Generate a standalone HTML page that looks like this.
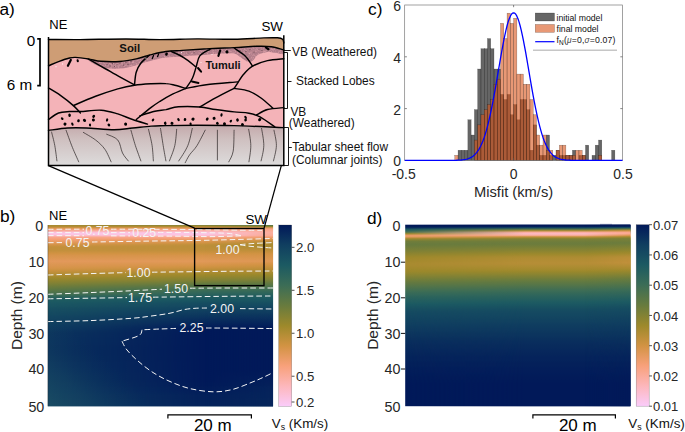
<!DOCTYPE html><html><head><meta charset="utf-8"><title>figure</title><style>html,body{margin:0;padding:0;background:#fff;}body{width:685px;height:432px;overflow:hidden;font-family:"Liberation Sans",sans-serif;}svg{display:block;}</style></head><body><svg width="685" height="432" viewBox="0 0 685 432" font-family="'Liberation Sans', sans-serif"><defs><linearGradient id="gbl" x1="0" y1="0" x2="0" y2="1"><stop offset="0.0000" stop-color="#a68b2f"/><stop offset="0.0083" stop-color="#b58d36"/><stop offset="0.0167" stop-color="#d7954a"/><stop offset="0.0250" stop-color="#f49f75"/><stop offset="0.0333" stop-color="#fbb0a7"/><stop offset="0.0417" stop-color="#fbc3df"/><stop offset="0.0500" stop-color="#fbc7ec"/><stop offset="0.0583" stop-color="#fcbbc9"/><stop offset="0.0667" stop-color="#f9a78d"/><stop offset="0.0750" stop-color="#f8a27f"/><stop offset="0.0833" stop-color="#f29f72"/><stop offset="0.0917" stop-color="#e99c65"/><stop offset="0.1000" stop-color="#e09858"/><stop offset="0.1083" stop-color="#d69449"/><stop offset="0.1167" stop-color="#c9913f"/><stop offset="0.1250" stop-color="#c3903c"/><stop offset="0.1333" stop-color="#c3903c"/><stop offset="0.1417" stop-color="#c4903d"/><stop offset="0.1500" stop-color="#cc9240"/><stop offset="0.1583" stop-color="#d39344"/><stop offset="0.1667" stop-color="#d8954b"/><stop offset="0.1750" stop-color="#da964f"/><stop offset="0.1833" stop-color="#dd9753"/><stop offset="0.1917" stop-color="#e09858"/><stop offset="0.2000" stop-color="#e3995c"/><stop offset="0.2083" stop-color="#e09858"/><stop offset="0.2167" stop-color="#dd9754"/><stop offset="0.2250" stop-color="#db9650"/><stop offset="0.2333" stop-color="#d8954c"/><stop offset="0.2417" stop-color="#d49447"/><stop offset="0.2500" stop-color="#cc9240"/><stop offset="0.2583" stop-color="#c3903c"/><stop offset="0.2667" stop-color="#b98e38"/><stop offset="0.2750" stop-color="#b08d34"/><stop offset="0.2833" stop-color="#a88b30"/><stop offset="0.2917" stop-color="#9f892c"/><stop offset="0.3000" stop-color="#97872d"/><stop offset="0.3083" stop-color="#8f8530"/><stop offset="0.3167" stop-color="#878333"/><stop offset="0.3250" stop-color="#7e8136"/><stop offset="0.3333" stop-color="#757e39"/><stop offset="0.3417" stop-color="#6c7c3d"/><stop offset="0.3500" stop-color="#647a40"/><stop offset="0.3583" stop-color="#5c7744"/><stop offset="0.3667" stop-color="#557549"/><stop offset="0.3750" stop-color="#4d724d"/><stop offset="0.3833" stop-color="#447052"/><stop offset="0.3917" stop-color="#366958"/><stop offset="0.4000" stop-color="#2a625d"/><stop offset="0.4083" stop-color="#215d60"/><stop offset="0.4167" stop-color="#1e5b61"/><stop offset="0.4250" stop-color="#1c5962"/><stop offset="0.4333" stop-color="#1b5762"/><stop offset="0.4417" stop-color="#1a5562"/><stop offset="0.4500" stop-color="#195361"/><stop offset="0.4583" stop-color="#185061"/><stop offset="0.4667" stop-color="#174e61"/><stop offset="0.4750" stop-color="#164d61"/><stop offset="0.4833" stop-color="#154b61"/><stop offset="0.4917" stop-color="#154a61"/><stop offset="0.5000" stop-color="#144861"/><stop offset="0.5083" stop-color="#134661"/><stop offset="0.5167" stop-color="#134560"/><stop offset="0.5250" stop-color="#124360"/><stop offset="0.5333" stop-color="#114260"/><stop offset="0.5417" stop-color="#114060"/><stop offset="0.5500" stop-color="#103f60"/><stop offset="0.5583" stop-color="#0f3d60"/><stop offset="0.5667" stop-color="#0f3c5f"/><stop offset="0.5750" stop-color="#0e3a5f"/><stop offset="0.5833" stop-color="#0d385f"/><stop offset="0.5917" stop-color="#0d365e"/><stop offset="0.6000" stop-color="#0c355e"/><stop offset="0.6083" stop-color="#0c345e"/><stop offset="0.6167" stop-color="#0c345e"/><stop offset="0.6250" stop-color="#0b335e"/><stop offset="0.6333" stop-color="#0b335e"/><stop offset="0.6417" stop-color="#0b335e"/><stop offset="0.6500" stop-color="#0b325e"/><stop offset="0.6583" stop-color="#0b325e"/><stop offset="0.6667" stop-color="#0b315d"/><stop offset="0.6750" stop-color="#0a315d"/><stop offset="0.6833" stop-color="#0a315d"/><stop offset="0.6917" stop-color="#0a305d"/><stop offset="0.7000" stop-color="#0a305d"/><stop offset="0.7083" stop-color="#0a305d"/><stop offset="0.7167" stop-color="#0a305d"/><stop offset="0.7250" stop-color="#0a315d"/><stop offset="0.7333" stop-color="#0a315d"/><stop offset="0.7417" stop-color="#0a315d"/><stop offset="0.7500" stop-color="#0b315d"/><stop offset="0.7583" stop-color="#0b325e"/><stop offset="0.7667" stop-color="#0b325e"/><stop offset="0.7750" stop-color="#0b325e"/><stop offset="0.7833" stop-color="#0b325e"/><stop offset="0.7917" stop-color="#0b335e"/><stop offset="0.8000" stop-color="#0b335e"/><stop offset="0.8083" stop-color="#0b335e"/><stop offset="0.8167" stop-color="#0c345e"/><stop offset="0.8250" stop-color="#0c345e"/><stop offset="0.8333" stop-color="#0c355e"/><stop offset="0.8417" stop-color="#0c355e"/><stop offset="0.8500" stop-color="#0c355e"/><stop offset="0.8583" stop-color="#0c365e"/><stop offset="0.8667" stop-color="#0d365e"/><stop offset="0.8750" stop-color="#0d375e"/><stop offset="0.8833" stop-color="#0d375f"/><stop offset="0.8917" stop-color="#0d375f"/><stop offset="0.9000" stop-color="#0d385f"/><stop offset="0.9083" stop-color="#0d385f"/><stop offset="0.9167" stop-color="#0d385f"/><stop offset="0.9250" stop-color="#0d395f"/><stop offset="0.9333" stop-color="#0e395f"/><stop offset="0.9417" stop-color="#0e395f"/><stop offset="0.9500" stop-color="#0e395f"/><stop offset="0.9583" stop-color="#0e3a5f"/><stop offset="0.9667" stop-color="#0e3a5f"/><stop offset="0.9750" stop-color="#0e3a5f"/><stop offset="0.9833" stop-color="#0e3a5f"/><stop offset="0.9917" stop-color="#0e3b5f"/><stop offset="1.0000" stop-color="#0e3b5f"/></linearGradient><linearGradient id="gbm" x1="0" y1="0" x2="0" y2="1"><stop offset="0.0000" stop-color="#787f38"/><stop offset="0.0083" stop-color="#af8c33"/><stop offset="0.0167" stop-color="#e19959"/><stop offset="0.0250" stop-color="#f9a485"/><stop offset="0.0333" stop-color="#fdb6b8"/><stop offset="0.0417" stop-color="#fbc2de"/><stop offset="0.0500" stop-color="#fbc6e8"/><stop offset="0.0583" stop-color="#fcbed2"/><stop offset="0.0667" stop-color="#f9a78c"/><stop offset="0.0750" stop-color="#f39f74"/><stop offset="0.0833" stop-color="#e49a5d"/><stop offset="0.0917" stop-color="#d9964e"/><stop offset="0.1000" stop-color="#ce9241"/><stop offset="0.1083" stop-color="#c0903b"/><stop offset="0.1167" stop-color="#bb8f39"/><stop offset="0.1250" stop-color="#bd8f3a"/><stop offset="0.1333" stop-color="#bf8f3a"/><stop offset="0.1417" stop-color="#c2903c"/><stop offset="0.1500" stop-color="#c9913f"/><stop offset="0.1583" stop-color="#d19342"/><stop offset="0.1667" stop-color="#d69449"/><stop offset="0.1750" stop-color="#d9954d"/><stop offset="0.1833" stop-color="#dc9751"/><stop offset="0.1917" stop-color="#de9855"/><stop offset="0.2000" stop-color="#e19959"/><stop offset="0.2083" stop-color="#dd9753"/><stop offset="0.2167" stop-color="#d9964d"/><stop offset="0.2250" stop-color="#d59447"/><stop offset="0.2333" stop-color="#ce9241"/><stop offset="0.2417" stop-color="#c4903c"/><stop offset="0.2500" stop-color="#b98e38"/><stop offset="0.2583" stop-color="#af8c33"/><stop offset="0.2667" stop-color="#a68b2f"/><stop offset="0.2750" stop-color="#9e892b"/><stop offset="0.2833" stop-color="#96872e"/><stop offset="0.2917" stop-color="#8d8531"/><stop offset="0.3000" stop-color="#858334"/><stop offset="0.3083" stop-color="#7c8037"/><stop offset="0.3167" stop-color="#6f7d3b"/><stop offset="0.3250" stop-color="#637a41"/><stop offset="0.3333" stop-color="#597646"/><stop offset="0.3417" stop-color="#4f734c"/><stop offset="0.3500" stop-color="#457051"/><stop offset="0.3583" stop-color="#3c6d56"/><stop offset="0.3667" stop-color="#366958"/><stop offset="0.3750" stop-color="#30665b"/><stop offset="0.3833" stop-color="#2a625d"/><stop offset="0.3917" stop-color="#235e5f"/><stop offset="0.4000" stop-color="#1e5b61"/><stop offset="0.4083" stop-color="#1b5862"/><stop offset="0.4167" stop-color="#195462"/><stop offset="0.4250" stop-color="#175061"/><stop offset="0.4333" stop-color="#164c61"/><stop offset="0.4417" stop-color="#154a61"/><stop offset="0.4500" stop-color="#144761"/><stop offset="0.4583" stop-color="#124460"/><stop offset="0.4667" stop-color="#114260"/><stop offset="0.4750" stop-color="#103f60"/><stop offset="0.4833" stop-color="#0f3c60"/><stop offset="0.4917" stop-color="#0e395f"/><stop offset="0.5000" stop-color="#0c365e"/><stop offset="0.5083" stop-color="#0b335e"/><stop offset="0.5167" stop-color="#0a2f5d"/><stop offset="0.5250" stop-color="#092c5d"/><stop offset="0.5333" stop-color="#07295c"/><stop offset="0.5417" stop-color="#06265b"/><stop offset="0.5500" stop-color="#05225b"/><stop offset="0.5583" stop-color="#031f5a"/><stop offset="0.5667" stop-color="#021c5a"/><stop offset="0.5750" stop-color="#011a59"/><stop offset="0.5833" stop-color="#011959"/><stop offset="0.5917" stop-color="#011959"/><stop offset="0.6000" stop-color="#011959"/><stop offset="0.6083" stop-color="#011959"/><stop offset="0.6167" stop-color="#011959"/><stop offset="0.6250" stop-color="#011959"/><stop offset="0.6333" stop-color="#011959"/><stop offset="0.6417" stop-color="#011959"/><stop offset="0.6500" stop-color="#011959"/><stop offset="0.6583" stop-color="#011959"/><stop offset="0.6667" stop-color="#011959"/><stop offset="0.6750" stop-color="#011959"/><stop offset="0.6833" stop-color="#011959"/><stop offset="0.6917" stop-color="#011959"/><stop offset="0.7000" stop-color="#011959"/><stop offset="0.7083" stop-color="#011959"/><stop offset="0.7167" stop-color="#011959"/><stop offset="0.7250" stop-color="#011959"/><stop offset="0.7333" stop-color="#011959"/><stop offset="0.7417" stop-color="#011959"/><stop offset="0.7500" stop-color="#011959"/><stop offset="0.7583" stop-color="#011959"/><stop offset="0.7667" stop-color="#011959"/><stop offset="0.7750" stop-color="#011959"/><stop offset="0.7833" stop-color="#011959"/><stop offset="0.7917" stop-color="#011959"/><stop offset="0.8000" stop-color="#011959"/><stop offset="0.8083" stop-color="#011959"/><stop offset="0.8167" stop-color="#011959"/><stop offset="0.8250" stop-color="#011959"/><stop offset="0.8333" stop-color="#011959"/><stop offset="0.8417" stop-color="#011959"/><stop offset="0.8500" stop-color="#011959"/><stop offset="0.8583" stop-color="#011959"/><stop offset="0.8667" stop-color="#011959"/><stop offset="0.8750" stop-color="#011a59"/><stop offset="0.8833" stop-color="#011a59"/><stop offset="0.8917" stop-color="#021b59"/><stop offset="0.9000" stop-color="#021c59"/><stop offset="0.9083" stop-color="#021c5a"/><stop offset="0.9167" stop-color="#031d5a"/><stop offset="0.9250" stop-color="#031e5a"/><stop offset="0.9333" stop-color="#031f5a"/><stop offset="0.9417" stop-color="#04205a"/><stop offset="0.9500" stop-color="#04205a"/><stop offset="0.9583" stop-color="#04205a"/><stop offset="0.9667" stop-color="#04215a"/><stop offset="0.9750" stop-color="#04215b"/><stop offset="0.9833" stop-color="#04225b"/><stop offset="0.9917" stop-color="#05225b"/><stop offset="1.0000" stop-color="#05235b"/></linearGradient><linearGradient id="gbr" x1="0" y1="0" x2="0" y2="1"><stop offset="0.0000" stop-color="#477050"/><stop offset="0.0083" stop-color="#8d8531"/><stop offset="0.0167" stop-color="#e89b63"/><stop offset="0.0250" stop-color="#f9a689"/><stop offset="0.0333" stop-color="#faaa94"/><stop offset="0.0417" stop-color="#fbac9c"/><stop offset="0.0500" stop-color="#faaa96"/><stop offset="0.0583" stop-color="#faa890"/><stop offset="0.0667" stop-color="#f29f73"/><stop offset="0.0750" stop-color="#e19859"/><stop offset="0.0833" stop-color="#d19343"/><stop offset="0.0917" stop-color="#bc8f39"/><stop offset="0.1000" stop-color="#ae8c33"/><stop offset="0.1083" stop-color="#a98b30"/><stop offset="0.1167" stop-color="#ac8c32"/><stop offset="0.1250" stop-color="#b08d34"/><stop offset="0.1333" stop-color="#b88e37"/><stop offset="0.1417" stop-color="#c0903b"/><stop offset="0.1500" stop-color="#c9913f"/><stop offset="0.1583" stop-color="#d19343"/><stop offset="0.1667" stop-color="#d49447"/><stop offset="0.1750" stop-color="#d7954a"/><stop offset="0.1833" stop-color="#d9964e"/><stop offset="0.1917" stop-color="#dc9751"/><stop offset="0.2000" stop-color="#de9755"/><stop offset="0.2083" stop-color="#d8954c"/><stop offset="0.2167" stop-color="#d39344"/><stop offset="0.2250" stop-color="#cc9240"/><stop offset="0.2333" stop-color="#c4903d"/><stop offset="0.2417" stop-color="#bc8f39"/><stop offset="0.2500" stop-color="#b58d36"/><stop offset="0.2583" stop-color="#ac8c32"/><stop offset="0.2667" stop-color="#a38a2e"/><stop offset="0.2750" stop-color="#9a882c"/><stop offset="0.2833" stop-color="#91862f"/><stop offset="0.2917" stop-color="#888332"/><stop offset="0.3000" stop-color="#7f8136"/><stop offset="0.3083" stop-color="#747e3a"/><stop offset="0.3167" stop-color="#687b3e"/><stop offset="0.3250" stop-color="#5f7843"/><stop offset="0.3333" stop-color="#557548"/><stop offset="0.3417" stop-color="#4c724d"/><stop offset="0.3500" stop-color="#436f52"/><stop offset="0.3583" stop-color="#3b6c57"/><stop offset="0.3667" stop-color="#346859"/><stop offset="0.3750" stop-color="#2e655b"/><stop offset="0.3833" stop-color="#28615d"/><stop offset="0.3917" stop-color="#225d60"/><stop offset="0.4000" stop-color="#1e5b61"/><stop offset="0.4083" stop-color="#1b5862"/><stop offset="0.4167" stop-color="#1a5562"/><stop offset="0.4250" stop-color="#185261"/><stop offset="0.4333" stop-color="#174e61"/><stop offset="0.4417" stop-color="#154b61"/><stop offset="0.4500" stop-color="#144861"/><stop offset="0.4583" stop-color="#124460"/><stop offset="0.4667" stop-color="#114160"/><stop offset="0.4750" stop-color="#103f60"/><stop offset="0.4833" stop-color="#0f3c5f"/><stop offset="0.4917" stop-color="#0d385f"/><stop offset="0.5000" stop-color="#0c355e"/><stop offset="0.5083" stop-color="#0b325e"/><stop offset="0.5167" stop-color="#0a2f5d"/><stop offset="0.5250" stop-color="#082b5c"/><stop offset="0.5333" stop-color="#07285c"/><stop offset="0.5417" stop-color="#06255b"/><stop offset="0.5500" stop-color="#04225b"/><stop offset="0.5583" stop-color="#031e5a"/><stop offset="0.5667" stop-color="#021b59"/><stop offset="0.5750" stop-color="#011a59"/><stop offset="0.5833" stop-color="#011959"/><stop offset="0.5917" stop-color="#011959"/><stop offset="0.6000" stop-color="#011959"/><stop offset="0.6083" stop-color="#011959"/><stop offset="0.6167" stop-color="#011959"/><stop offset="0.6250" stop-color="#011959"/><stop offset="0.6333" stop-color="#011959"/><stop offset="0.6417" stop-color="#011959"/><stop offset="0.6500" stop-color="#011959"/><stop offset="0.6583" stop-color="#011959"/><stop offset="0.6667" stop-color="#011959"/><stop offset="0.6750" stop-color="#011959"/><stop offset="0.6833" stop-color="#011959"/><stop offset="0.6917" stop-color="#011959"/><stop offset="0.7000" stop-color="#011959"/><stop offset="0.7083" stop-color="#011959"/><stop offset="0.7167" stop-color="#011959"/><stop offset="0.7250" stop-color="#011959"/><stop offset="0.7333" stop-color="#011959"/><stop offset="0.7417" stop-color="#011959"/><stop offset="0.7500" stop-color="#011959"/><stop offset="0.7583" stop-color="#011959"/><stop offset="0.7667" stop-color="#011959"/><stop offset="0.7750" stop-color="#011959"/><stop offset="0.7833" stop-color="#011959"/><stop offset="0.7917" stop-color="#011959"/><stop offset="0.8000" stop-color="#011959"/><stop offset="0.8083" stop-color="#011a59"/><stop offset="0.8167" stop-color="#021b59"/><stop offset="0.8250" stop-color="#021b59"/><stop offset="0.8333" stop-color="#021c5a"/><stop offset="0.8417" stop-color="#031d5a"/><stop offset="0.8500" stop-color="#031e5a"/><stop offset="0.8583" stop-color="#031f5a"/><stop offset="0.8667" stop-color="#041f5a"/><stop offset="0.8750" stop-color="#04205a"/><stop offset="0.8833" stop-color="#04215a"/><stop offset="0.8917" stop-color="#05225b"/><stop offset="0.9000" stop-color="#05235b"/><stop offset="0.9083" stop-color="#05235b"/><stop offset="0.9167" stop-color="#05235b"/><stop offset="0.9250" stop-color="#05245b"/><stop offset="0.9333" stop-color="#05245b"/><stop offset="0.9417" stop-color="#05245b"/><stop offset="0.9500" stop-color="#05245b"/><stop offset="0.9583" stop-color="#06255b"/><stop offset="0.9667" stop-color="#06255b"/><stop offset="0.9750" stop-color="#06255b"/><stop offset="0.9833" stop-color="#06255b"/><stop offset="0.9917" stop-color="#06265b"/><stop offset="1.0000" stop-color="#06265b"/></linearGradient><linearGradient id="mb1g" gradientUnits="userSpaceOnUse" x1="47.9" y1="0" x2="205.0" y2="0"><stop offset="0" stop-color="#000"/><stop offset="1" stop-color="#fff"/></linearGradient><mask id="mb1" maskUnits="userSpaceOnUse" x="47.9" y="0" width="225.2" height="432"><rect x="47.9" y="0" width="225.2" height="432" fill="url(#mb1g)"/></mask><linearGradient id="mb2g" gradientUnits="userSpaceOnUse" x1="205.0" y1="0" x2="273.1" y2="0"><stop offset="0" stop-color="#000"/><stop offset="1" stop-color="#fff"/></linearGradient><mask id="mb2" maskUnits="userSpaceOnUse" x="47.9" y="0" width="225.2" height="432"><rect x="47.9" y="0" width="225.2" height="432" fill="url(#mb2g)"/></mask><linearGradient id="gdiag" gradientUnits="userSpaceOnUse" x1="40" y1="414" x2="98" y2="352"><stop offset="0" stop-color="#2a6369" stop-opacity="0.5"/><stop offset="0.5" stop-color="#1f5566" stop-opacity="0.3"/><stop offset="1" stop-color="#103f60" stop-opacity="0"/></linearGradient><linearGradient id="gcb" x1="0" y1="0" x2="0" y2="1"><stop offset="0.0000" stop-color="#011959"/><stop offset="0.1111" stop-color="#103F60"/><stop offset="0.2222" stop-color="#1C5A62"/><stop offset="0.3333" stop-color="#3C6D56"/><stop offset="0.4444" stop-color="#687B3E"/><stop offset="0.5556" stop-color="#9D892B"/><stop offset="0.6667" stop-color="#D29343"/><stop offset="0.7778" stop-color="#F8A17B"/><stop offset="0.8889" stop-color="#FDB7BC"/><stop offset="1.0000" stop-color="#FACCFA"/></linearGradient><linearGradient id="gdl" x1="0" y1="0" x2="0" y2="1"><stop offset="0.0000" stop-color="#011959"/><stop offset="0.0083" stop-color="#011959"/><stop offset="0.0167" stop-color="#082b5c"/><stop offset="0.0250" stop-color="#1b5762"/><stop offset="0.0333" stop-color="#2c645c"/><stop offset="0.0417" stop-color="#50734b"/><stop offset="0.0500" stop-color="#9c892b"/><stop offset="0.0583" stop-color="#e79b62"/><stop offset="0.0667" stop-color="#e89b63"/><stop offset="0.0750" stop-color="#ae8c33"/><stop offset="0.0833" stop-color="#888333"/><stop offset="0.0917" stop-color="#717d3b"/><stop offset="0.1000" stop-color="#6c7c3d"/><stop offset="0.1083" stop-color="#687b3e"/><stop offset="0.1167" stop-color="#6b7c3d"/><stop offset="0.1250" stop-color="#717d3b"/><stop offset="0.1333" stop-color="#767f39"/><stop offset="0.1417" stop-color="#7c8037"/><stop offset="0.1500" stop-color="#838234"/><stop offset="0.1583" stop-color="#8b8431"/><stop offset="0.1667" stop-color="#92862f"/><stop offset="0.1750" stop-color="#9a882c"/><stop offset="0.1833" stop-color="#9f892c"/><stop offset="0.1917" stop-color="#a28a2d"/><stop offset="0.2000" stop-color="#a48a2e"/><stop offset="0.2083" stop-color="#a78b2f"/><stop offset="0.2167" stop-color="#a98b31"/><stop offset="0.2250" stop-color="#a88b30"/><stop offset="0.2333" stop-color="#a58a2f"/><stop offset="0.2417" stop-color="#a28a2d"/><stop offset="0.2500" stop-color="#9e892c"/><stop offset="0.2583" stop-color="#9b882c"/><stop offset="0.2667" stop-color="#94872e"/><stop offset="0.2750" stop-color="#8c8531"/><stop offset="0.2833" stop-color="#858334"/><stop offset="0.2917" stop-color="#7d8136"/><stop offset="0.3000" stop-color="#757f39"/><stop offset="0.3083" stop-color="#6e7c3c"/><stop offset="0.3167" stop-color="#667a3f"/><stop offset="0.3250" stop-color="#607843"/><stop offset="0.3333" stop-color="#597646"/><stop offset="0.3417" stop-color="#53744a"/><stop offset="0.3500" stop-color="#4c724d"/><stop offset="0.3583" stop-color="#467051"/><stop offset="0.3667" stop-color="#3f6e54"/><stop offset="0.3750" stop-color="#396b57"/><stop offset="0.3833" stop-color="#356959"/><stop offset="0.3917" stop-color="#30665b"/><stop offset="0.4000" stop-color="#2b635c"/><stop offset="0.4083" stop-color="#28615e"/><stop offset="0.4167" stop-color="#245f5f"/><stop offset="0.4250" stop-color="#215d60"/><stop offset="0.4333" stop-color="#1d5b62"/><stop offset="0.4417" stop-color="#1b5862"/><stop offset="0.4500" stop-color="#1a5562"/><stop offset="0.4583" stop-color="#195261"/><stop offset="0.4667" stop-color="#174f61"/><stop offset="0.4750" stop-color="#164c61"/><stop offset="0.4833" stop-color="#154a61"/><stop offset="0.4917" stop-color="#144961"/><stop offset="0.5000" stop-color="#144761"/><stop offset="0.5083" stop-color="#134661"/><stop offset="0.5167" stop-color="#124560"/><stop offset="0.5250" stop-color="#124360"/><stop offset="0.5333" stop-color="#114260"/><stop offset="0.5417" stop-color="#114060"/><stop offset="0.5500" stop-color="#103f60"/><stop offset="0.5583" stop-color="#0f3d60"/><stop offset="0.5667" stop-color="#0f3c5f"/><stop offset="0.5750" stop-color="#0e3a5f"/><stop offset="0.5833" stop-color="#0e395f"/><stop offset="0.5917" stop-color="#0d375f"/><stop offset="0.6000" stop-color="#0c365e"/><stop offset="0.6083" stop-color="#0c345e"/><stop offset="0.6167" stop-color="#0b335e"/><stop offset="0.6250" stop-color="#0b315d"/><stop offset="0.6333" stop-color="#0a305d"/><stop offset="0.6417" stop-color="#092e5d"/><stop offset="0.6500" stop-color="#092d5d"/><stop offset="0.6583" stop-color="#092c5d"/><stop offset="0.6667" stop-color="#082b5c"/><stop offset="0.6750" stop-color="#082a5c"/><stop offset="0.6833" stop-color="#07295c"/><stop offset="0.6917" stop-color="#07285c"/><stop offset="0.7000" stop-color="#07275c"/><stop offset="0.7083" stop-color="#06265b"/><stop offset="0.7167" stop-color="#06255b"/><stop offset="0.7250" stop-color="#05245b"/><stop offset="0.7333" stop-color="#05235b"/><stop offset="0.7417" stop-color="#05235b"/><stop offset="0.7500" stop-color="#04225b"/><stop offset="0.7583" stop-color="#04215a"/><stop offset="0.7667" stop-color="#04205a"/><stop offset="0.7750" stop-color="#04205a"/><stop offset="0.7833" stop-color="#031f5a"/><stop offset="0.7917" stop-color="#031e5a"/><stop offset="0.8000" stop-color="#031e5a"/><stop offset="0.8083" stop-color="#031d5a"/><stop offset="0.8167" stop-color="#021d5a"/><stop offset="0.8250" stop-color="#021c5a"/><stop offset="0.8333" stop-color="#021c59"/><stop offset="0.8417" stop-color="#021b59"/><stop offset="0.8500" stop-color="#021b59"/><stop offset="0.8583" stop-color="#011a59"/><stop offset="0.8667" stop-color="#011a59"/><stop offset="0.8750" stop-color="#011959"/><stop offset="0.8833" stop-color="#011959"/><stop offset="0.8917" stop-color="#011959"/><stop offset="0.9000" stop-color="#011959"/><stop offset="0.9083" stop-color="#011959"/><stop offset="0.9167" stop-color="#011959"/><stop offset="0.9250" stop-color="#011959"/><stop offset="0.9333" stop-color="#011959"/><stop offset="0.9417" stop-color="#011959"/><stop offset="0.9500" stop-color="#011959"/><stop offset="0.9583" stop-color="#011959"/><stop offset="0.9667" stop-color="#011959"/><stop offset="0.9750" stop-color="#011959"/><stop offset="0.9833" stop-color="#011959"/><stop offset="0.9917" stop-color="#011959"/><stop offset="1.0000" stop-color="#011959"/></linearGradient><linearGradient id="gdm" x1="0" y1="0" x2="0" y2="1"><stop offset="0.0000" stop-color="#011959"/><stop offset="0.0083" stop-color="#011959"/><stop offset="0.0167" stop-color="#144761"/><stop offset="0.0250" stop-color="#51744b"/><stop offset="0.0333" stop-color="#b28d35"/><stop offset="0.0417" stop-color="#fbad9f"/><stop offset="0.0500" stop-color="#fcbbc7"/><stop offset="0.0583" stop-color="#fbaea0"/><stop offset="0.0667" stop-color="#c6913d"/><stop offset="0.0750" stop-color="#8e8530"/><stop offset="0.0833" stop-color="#777f39"/><stop offset="0.0917" stop-color="#717d3b"/><stop offset="0.1000" stop-color="#6c7c3d"/><stop offset="0.1083" stop-color="#6d7c3c"/><stop offset="0.1167" stop-color="#737e3a"/><stop offset="0.1250" stop-color="#7a8037"/><stop offset="0.1333" stop-color="#818235"/><stop offset="0.1417" stop-color="#888332"/><stop offset="0.1500" stop-color="#908630"/><stop offset="0.1583" stop-color="#99882d"/><stop offset="0.1667" stop-color="#a18a2d"/><stop offset="0.1750" stop-color="#a98b31"/><stop offset="0.1833" stop-color="#af8c33"/><stop offset="0.1917" stop-color="#b18d34"/><stop offset="0.2000" stop-color="#b38d35"/><stop offset="0.2083" stop-color="#b58e36"/><stop offset="0.2167" stop-color="#b58d36"/><stop offset="0.2250" stop-color="#b08d34"/><stop offset="0.2333" stop-color="#ac8c32"/><stop offset="0.2417" stop-color="#a78b2f"/><stop offset="0.2500" stop-color="#a28a2d"/><stop offset="0.2583" stop-color="#9a882c"/><stop offset="0.2667" stop-color="#91862f"/><stop offset="0.2750" stop-color="#898432"/><stop offset="0.2833" stop-color="#808135"/><stop offset="0.2917" stop-color="#787f38"/><stop offset="0.3000" stop-color="#6f7d3b"/><stop offset="0.3083" stop-color="#677b3f"/><stop offset="0.3167" stop-color="#607942"/><stop offset="0.3250" stop-color="#5a7746"/><stop offset="0.3333" stop-color="#547549"/><stop offset="0.3417" stop-color="#4d724d"/><stop offset="0.3500" stop-color="#477050"/><stop offset="0.3583" stop-color="#406e54"/><stop offset="0.3667" stop-color="#3b6c57"/><stop offset="0.3750" stop-color="#366958"/><stop offset="0.3833" stop-color="#31675a"/><stop offset="0.3917" stop-color="#2d645c"/><stop offset="0.4000" stop-color="#29625d"/><stop offset="0.4083" stop-color="#26605e"/><stop offset="0.4167" stop-color="#225e60"/><stop offset="0.4250" stop-color="#1e5b61"/><stop offset="0.4333" stop-color="#1c5962"/><stop offset="0.4417" stop-color="#1a5662"/><stop offset="0.4500" stop-color="#195361"/><stop offset="0.4583" stop-color="#185061"/><stop offset="0.4667" stop-color="#164d61"/><stop offset="0.4750" stop-color="#154b61"/><stop offset="0.4833" stop-color="#154961"/><stop offset="0.4917" stop-color="#144861"/><stop offset="0.5000" stop-color="#134761"/><stop offset="0.5083" stop-color="#134560"/><stop offset="0.5167" stop-color="#124460"/><stop offset="0.5250" stop-color="#114260"/><stop offset="0.5333" stop-color="#114160"/><stop offset="0.5417" stop-color="#103f60"/><stop offset="0.5500" stop-color="#0f3d60"/><stop offset="0.5583" stop-color="#0f3c5f"/><stop offset="0.5667" stop-color="#0e3b5f"/><stop offset="0.5750" stop-color="#0e395f"/><stop offset="0.5833" stop-color="#0d385f"/><stop offset="0.5917" stop-color="#0d375e"/><stop offset="0.6000" stop-color="#0c355e"/><stop offset="0.6083" stop-color="#0c345e"/><stop offset="0.6167" stop-color="#0b335e"/><stop offset="0.6250" stop-color="#0b315d"/><stop offset="0.6333" stop-color="#0a305d"/><stop offset="0.6417" stop-color="#092e5d"/><stop offset="0.6500" stop-color="#092d5d"/><stop offset="0.6583" stop-color="#092c5d"/><stop offset="0.6667" stop-color="#082b5c"/><stop offset="0.6750" stop-color="#082a5c"/><stop offset="0.6833" stop-color="#07295c"/><stop offset="0.6917" stop-color="#07285c"/><stop offset="0.7000" stop-color="#07275c"/><stop offset="0.7083" stop-color="#06265b"/><stop offset="0.7167" stop-color="#06255b"/><stop offset="0.7250" stop-color="#05245b"/><stop offset="0.7333" stop-color="#05235b"/><stop offset="0.7417" stop-color="#05235b"/><stop offset="0.7500" stop-color="#04225b"/><stop offset="0.7583" stop-color="#04215a"/><stop offset="0.7667" stop-color="#04205a"/><stop offset="0.7750" stop-color="#04205a"/><stop offset="0.7833" stop-color="#031f5a"/><stop offset="0.7917" stop-color="#031e5a"/><stop offset="0.8000" stop-color="#031e5a"/><stop offset="0.8083" stop-color="#031d5a"/><stop offset="0.8167" stop-color="#021d5a"/><stop offset="0.8250" stop-color="#021c5a"/><stop offset="0.8333" stop-color="#021c59"/><stop offset="0.8417" stop-color="#021b59"/><stop offset="0.8500" stop-color="#021b59"/><stop offset="0.8583" stop-color="#011a59"/><stop offset="0.8667" stop-color="#011a59"/><stop offset="0.8750" stop-color="#011959"/><stop offset="0.8833" stop-color="#011959"/><stop offset="0.8917" stop-color="#011959"/><stop offset="0.9000" stop-color="#011959"/><stop offset="0.9083" stop-color="#011959"/><stop offset="0.9167" stop-color="#011959"/><stop offset="0.9250" stop-color="#011959"/><stop offset="0.9333" stop-color="#011959"/><stop offset="0.9417" stop-color="#011959"/><stop offset="0.9500" stop-color="#011959"/><stop offset="0.9583" stop-color="#011959"/><stop offset="0.9667" stop-color="#011959"/><stop offset="0.9750" stop-color="#011959"/><stop offset="0.9833" stop-color="#011959"/><stop offset="0.9917" stop-color="#011959"/><stop offset="1.0000" stop-color="#011959"/></linearGradient><linearGradient id="gdr" x1="0" y1="0" x2="0" y2="1"><stop offset="0.0000" stop-color="#011959"/><stop offset="0.0083" stop-color="#011959"/><stop offset="0.0167" stop-color="#1a5562"/><stop offset="0.0250" stop-color="#737e3a"/><stop offset="0.0333" stop-color="#d29343"/><stop offset="0.0417" stop-color="#f9a78e"/><stop offset="0.0500" stop-color="#faa88f"/><stop offset="0.0583" stop-color="#de9755"/><stop offset="0.0667" stop-color="#a38a2e"/><stop offset="0.0750" stop-color="#7c8037"/><stop offset="0.0833" stop-color="#767f39"/><stop offset="0.0917" stop-color="#717d3b"/><stop offset="0.1000" stop-color="#6b7c3d"/><stop offset="0.1083" stop-color="#727e3a"/><stop offset="0.1167" stop-color="#7a8038"/><stop offset="0.1250" stop-color="#818235"/><stop offset="0.1333" stop-color="#888432"/><stop offset="0.1417" stop-color="#908630"/><stop offset="0.1500" stop-color="#99882c"/><stop offset="0.1583" stop-color="#a28a2d"/><stop offset="0.1667" stop-color="#ac8c32"/><stop offset="0.1750" stop-color="#b58d36"/><stop offset="0.1833" stop-color="#bb8f39"/><stop offset="0.1917" stop-color="#bd8f39"/><stop offset="0.2000" stop-color="#be8f3a"/><stop offset="0.2083" stop-color="#c0903b"/><stop offset="0.2167" stop-color="#bc8f39"/><stop offset="0.2250" stop-color="#b58e36"/><stop offset="0.2333" stop-color="#af8c33"/><stop offset="0.2417" stop-color="#a88b30"/><stop offset="0.2500" stop-color="#9f892c"/><stop offset="0.2583" stop-color="#96872e"/><stop offset="0.2667" stop-color="#8c8531"/><stop offset="0.2750" stop-color="#838234"/><stop offset="0.2833" stop-color="#798038"/><stop offset="0.2917" stop-color="#707d3b"/><stop offset="0.3000" stop-color="#677b3f"/><stop offset="0.3083" stop-color="#617942"/><stop offset="0.3167" stop-color="#5b7745"/><stop offset="0.3250" stop-color="#547549"/><stop offset="0.3333" stop-color="#4e734c"/><stop offset="0.3417" stop-color="#48714f"/><stop offset="0.3500" stop-color="#426f53"/><stop offset="0.3583" stop-color="#3c6d56"/><stop offset="0.3667" stop-color="#376a58"/><stop offset="0.3750" stop-color="#336759"/><stop offset="0.3833" stop-color="#2f655b"/><stop offset="0.3917" stop-color="#2b635c"/><stop offset="0.4000" stop-color="#27615e"/><stop offset="0.4083" stop-color="#235e5f"/><stop offset="0.4167" stop-color="#205c61"/><stop offset="0.4250" stop-color="#1c5a62"/><stop offset="0.4333" stop-color="#1b5762"/><stop offset="0.4417" stop-color="#195362"/><stop offset="0.4500" stop-color="#185061"/><stop offset="0.4583" stop-color="#164d61"/><stop offset="0.4667" stop-color="#154b61"/><stop offset="0.4750" stop-color="#154a61"/><stop offset="0.4833" stop-color="#144861"/><stop offset="0.4917" stop-color="#144761"/><stop offset="0.5000" stop-color="#134560"/><stop offset="0.5083" stop-color="#124460"/><stop offset="0.5167" stop-color="#124260"/><stop offset="0.5250" stop-color="#114160"/><stop offset="0.5333" stop-color="#104060"/><stop offset="0.5417" stop-color="#103e60"/><stop offset="0.5500" stop-color="#0f3d60"/><stop offset="0.5583" stop-color="#0f3b5f"/><stop offset="0.5667" stop-color="#0e3a5f"/><stop offset="0.5750" stop-color="#0d395f"/><stop offset="0.5833" stop-color="#0d375f"/><stop offset="0.5917" stop-color="#0c365e"/><stop offset="0.6000" stop-color="#0c355e"/><stop offset="0.6083" stop-color="#0b345e"/><stop offset="0.6167" stop-color="#0b325e"/><stop offset="0.6250" stop-color="#0a315d"/><stop offset="0.6333" stop-color="#0a305d"/><stop offset="0.6417" stop-color="#092e5d"/><stop offset="0.6500" stop-color="#092d5d"/><stop offset="0.6583" stop-color="#092c5d"/><stop offset="0.6667" stop-color="#082b5c"/><stop offset="0.6750" stop-color="#082a5c"/><stop offset="0.6833" stop-color="#07295c"/><stop offset="0.6917" stop-color="#07285c"/><stop offset="0.7000" stop-color="#07275c"/><stop offset="0.7083" stop-color="#06265b"/><stop offset="0.7167" stop-color="#06255b"/><stop offset="0.7250" stop-color="#05245b"/><stop offset="0.7333" stop-color="#05235b"/><stop offset="0.7417" stop-color="#05235b"/><stop offset="0.7500" stop-color="#04225b"/><stop offset="0.7583" stop-color="#04215a"/><stop offset="0.7667" stop-color="#04205a"/><stop offset="0.7750" stop-color="#04205a"/><stop offset="0.7833" stop-color="#031f5a"/><stop offset="0.7917" stop-color="#031e5a"/><stop offset="0.8000" stop-color="#031e5a"/><stop offset="0.8083" stop-color="#031d5a"/><stop offset="0.8167" stop-color="#021d5a"/><stop offset="0.8250" stop-color="#021c5a"/><stop offset="0.8333" stop-color="#021c59"/><stop offset="0.8417" stop-color="#021b59"/><stop offset="0.8500" stop-color="#021b59"/><stop offset="0.8583" stop-color="#011a59"/><stop offset="0.8667" stop-color="#011a59"/><stop offset="0.8750" stop-color="#011959"/><stop offset="0.8833" stop-color="#011959"/><stop offset="0.8917" stop-color="#011959"/><stop offset="0.9000" stop-color="#011959"/><stop offset="0.9083" stop-color="#011959"/><stop offset="0.9167" stop-color="#011959"/><stop offset="0.9250" stop-color="#011959"/><stop offset="0.9333" stop-color="#011959"/><stop offset="0.9417" stop-color="#011959"/><stop offset="0.9500" stop-color="#011959"/><stop offset="0.9583" stop-color="#011959"/><stop offset="0.9667" stop-color="#011959"/><stop offset="0.9750" stop-color="#011959"/><stop offset="0.9833" stop-color="#011959"/><stop offset="0.9917" stop-color="#011959"/><stop offset="1.0000" stop-color="#011959"/></linearGradient><linearGradient id="md1g" gradientUnits="userSpaceOnUse" x1="405.2" y1="0" x2="525.0" y2="0"><stop offset="0" stop-color="#000"/><stop offset="1" stop-color="#fff"/></linearGradient><mask id="md1" maskUnits="userSpaceOnUse" x="405.2" y="0" width="225.4" height="432"><rect x="405.2" y="0" width="225.4" height="432" fill="url(#md1g)"/></mask><linearGradient id="md2g" gradientUnits="userSpaceOnUse" x1="585.0" y1="0" x2="630.6" y2="0"><stop offset="0" stop-color="#000"/><stop offset="1" stop-color="#fff"/></linearGradient><mask id="md2" maskUnits="userSpaceOnUse" x="405.2" y="0" width="225.4" height="432"><rect x="405.2" y="0" width="225.4" height="432" fill="url(#md2g)"/></mask><linearGradient id="ggrey" x1="0" y1="0" x2="0" y2="1"><stop offset="0" stop-color="#c4a9ab"/><stop offset="0.35" stop-color="#cfc0c0"/><stop offset="1" stop-color="#dddcdc"/></linearGradient><filter id="fb" x="-5%" y="-60%" width="110%" height="220%"><feGaussianBlur in="SourceGraphic" stdDeviation="0.75" result="b"/><feTurbulence type="fractalNoise" baseFrequency="0.55" numOctaves="2" seed="7" result="n"/><feColorMatrix in="n" type="matrix" values="0 0 0 0 0  0 0 0 0 0  0 0 0 0 0  1.5 0 0 0 0.15" result="a"/><feComposite in="b" in2="a" operator="in"/></filter><clipPath id="cpink"><path d="M48.5 65.8 C50.2 65.1 55.1 62.9 58.5 61.6 C61.9 60.4 65.8 59.0 68.6 58.3 C71.4 57.6 72.1 57.3 75.4 57.4 C78.7 57.5 83.9 58.2 88.2 58.9 C92.5 59.5 95.8 60.9 101.1 61.3 C106.3 61.7 113.8 61.9 119.7 61.5 C125.6 61.1 131.1 60.0 136.3 58.9 C141.6 57.8 146.2 55.8 151.2 54.6 C156.1 53.4 160.8 52.2 166.0 51.5 C171.2 50.8 175.5 50.8 182.2 50.4 C188.9 50.0 197.7 49.4 206.3 48.9 C215.0 48.4 225.8 48.0 234.1 47.6 C242.4 47.2 250.1 46.4 256.3 46.3 C262.5 46.1 266.6 46.1 271.2 46.7 C275.8 47.3 281.7 49.5 283.8 50.0 L283.8 127.6 C275.5 127.3 248.6 126.0 234.1 125.6 C219.6 125.2 208.3 125.2 197.0 125.2 C185.7 125.2 173.6 125.4 166.0 125.6 C158.4 125.8 156.8 125.7 151.2 126.1 C145.6 126.5 138.8 127.4 132.6 128.0 C126.4 128.6 121.8 129.8 114.1 129.8 C106.4 129.8 94.0 128.3 86.3 128.0 C78.6 127.7 74.1 127.6 67.8 128.0 C61.5 128.4 51.7 130.0 48.5 130.4 Z"/></clipPath></defs><rect x="47.90" y="225.00" width="225.20" height="181.30" fill="url(#gbl)"/>
<rect x="47.90" y="225.00" width="225.20" height="181.30" fill="url(#gbm)" mask="url(#mb1)"/>
<rect x="47.90" y="225.00" width="225.20" height="181.30" fill="url(#gbr)" mask="url(#mb2)"/>
<rect x="47.90" y="320.00" width="102.10" height="86.30" fill="url(#gdiag)"/>
<rect x="278.70" y="225.00" width="13.00" height="181.30" fill="url(#gcb)" stroke="#333" stroke-width="0.5" stroke-opacity="0.45"/>
<rect x="405.20" y="224.70" width="225.40" height="181.50" fill="url(#gdl)"/>
<rect x="405.20" y="224.70" width="225.40" height="181.50" fill="url(#gdm)" mask="url(#md1)"/>
<rect x="405.20" y="224.70" width="225.40" height="181.50" fill="url(#gdr)" mask="url(#md2)"/>
<rect x="636.20" y="224.70" width="13.00" height="181.50" fill="url(#gcb)" stroke="#333" stroke-width="0.5" stroke-opacity="0.45"/>
<text x="43.20" y="230.60" font-size="14.30" text-anchor="end" fill="#262626" >0</text>
<text x="44.30" y="267.40" font-size="14.30" text-anchor="end" fill="#262626" >10</text>
<text x="44.30" y="303.00" font-size="14.30" text-anchor="end" fill="#262626" >20</text>
<text x="44.30" y="338.60" font-size="14.30" text-anchor="end" fill="#262626" >30</text>
<text x="44.30" y="374.20" font-size="14.30" text-anchor="end" fill="#262626" >40</text>
<text x="44.30" y="412.30" font-size="14.30" text-anchor="end" fill="#262626" >50</text>
<text transform="translate(21.9,315.6) rotate(-90)" font-size="15.5" text-anchor="middle" fill="#262626">Depth (m)</text>
<text x="0.00" y="222.20" font-size="17.30" text-anchor="start" fill="#000" >b)</text>
<text x="49.00" y="219.60" font-size="13.00" text-anchor="start" fill="#000" >NE</text>
<text x="245.40" y="223.80" font-size="13.40" text-anchor="start" fill="#000" >SW</text>
<line x1="291.70" y1="247.34" x2="294.50" y2="247.34" stroke="#262626" stroke-width="0.80" />
<text x="296.00" y="252.34" font-size="13.20" text-anchor="start" fill="#262626" >2.0</text>
<line x1="291.70" y1="290.30" x2="294.50" y2="290.30" stroke="#262626" stroke-width="0.80" />
<text x="296.00" y="295.30" font-size="13.20" text-anchor="start" fill="#262626" >1.5</text>
<line x1="291.70" y1="333.26" x2="294.50" y2="333.26" stroke="#262626" stroke-width="0.80" />
<text x="296.00" y="338.26" font-size="13.20" text-anchor="start" fill="#262626" >1.0</text>
<line x1="291.70" y1="376.23" x2="294.50" y2="376.23" stroke="#262626" stroke-width="0.80" />
<text x="296.00" y="381.23" font-size="13.20" text-anchor="start" fill="#262626" >0.5</text>
<line x1="291.70" y1="402.00" x2="294.50" y2="402.00" stroke="#262626" stroke-width="0.80" />
<text x="296.00" y="407.00" font-size="13.20" text-anchor="start" fill="#262626" >0.2</text>
<text x="271.70" y="427.70" font-size="13.40" text-anchor="start" fill="#111" >V<tspan font-size="8.8" dy="2">s</tspan><tspan dy="-2"> (Km/s)</tspan></text>
<path d="M167.9 418.6 V414.9 H251.4 V418.6" stroke="#000" stroke-width="1.20" fill="none" />
<text x="212.80" y="430.90" font-size="17.00" text-anchor="middle" fill="#000" >20 m</text>
<path d="M48.0 229.3 C51.7 229.3 64.0 229.2 70.0 229.2 C76.0 229.2 81.7 229.2 84.0 229.2" stroke="#f6f6f6" stroke-width="1.00" fill="none" stroke-dasharray="5.6 3.0" stroke-linecap="butt"/>
<path d="M111.0 229.2 C119.2 229.2 145.2 229.2 160.0 229.3 C174.8 229.4 186.7 229.4 200.0 229.6 C213.3 229.8 229.7 230.1 240.0 230.2 C250.3 230.3 258.3 230.3 262.0 230.3" stroke="#f6f6f6" stroke-width="1.00" fill="none" stroke-dasharray="5.6 3.0" stroke-linecap="butt"/>
<text x="97.40" y="234.80" font-size="12.30" text-anchor="middle" fill="#f4f4f4" >0.75</text>
<path d="M48.0 232.6 L84.0 232.6" stroke="#f6f6f6" stroke-width="1.00" fill="none" stroke-dasharray="5.6 3.0" stroke-linecap="butt"/>
<path d="M111.0 232.6 L130.0 232.6" stroke="#f6f6f6" stroke-width="1.00" fill="none" stroke-dasharray="5.6 3.0" stroke-linecap="butt"/>
<path d="M158.0 232.4 C165.0 232.4 188.3 232.4 200.0 232.6 C211.7 232.8 221.2 232.9 228.0 233.4 C234.8 233.9 238.8 235.2 241.0 235.6" stroke="#f6f6f6" stroke-width="1.00" fill="none" stroke-dasharray="5.6 3.0" stroke-linecap="butt"/>
<path d="M48.0 235.6 L84.0 235.7" stroke="#f6f6f6" stroke-width="1.00" fill="none" stroke-dasharray="5.6 3.0" stroke-linecap="butt"/>
<path d="M111.0 235.8 L130.0 235.9" stroke="#f6f6f6" stroke-width="1.00" fill="none" stroke-dasharray="5.6 3.0" stroke-linecap="butt"/>
<path d="M158.0 236.1 C161.7 236.1 170.5 236.1 180.0 236.2 C189.5 236.3 204.8 236.7 215.0 236.6 C225.2 236.5 236.7 235.9 241.0 235.8" stroke="#f6f6f6" stroke-width="1.00" fill="none" stroke-dasharray="5.6 3.0" stroke-linecap="butt"/>
<text x="144.20" y="236.60" font-size="12.30" text-anchor="middle" fill="#f4f4f4" >0.25</text>
<path d="M48.0 242.7 L62.0 242.6" stroke="#f6f6f6" stroke-width="1.00" fill="none" stroke-dasharray="5.6 3.0" stroke-linecap="butt"/>
<path d="M92.0 242.0 C100.0 241.9 122.0 241.5 140.0 241.2 C158.0 240.9 183.3 240.7 200.0 240.4 C216.7 240.1 227.8 239.7 240.0 239.4 C252.2 239.1 267.5 238.6 273.0 238.4" stroke="#f6f6f6" stroke-width="1.00" fill="none" stroke-dasharray="5.6 3.0" stroke-linecap="butt"/>
<text x="77.50" y="247.20" font-size="12.30" text-anchor="middle" fill="#f4f4f4" >0.75</text>
<path d="M240.0 244.6 C242.5 244.4 249.5 243.7 255.0 243.4 C260.5 243.1 270.0 242.7 273.0 242.6" stroke="#f6f6f6" stroke-width="1.00" fill="none" stroke-dasharray="5.6 3.0" stroke-linecap="butt"/>
<path d="M240.0 244.8 C241.7 245.1 246.3 245.9 250.0 246.3 C253.7 246.7 258.2 247.0 262.0 247.3 C265.8 247.6 271.2 247.9 273.0 248.0" stroke="#f6f6f6" stroke-width="1.00" fill="none" stroke-dasharray="5.6 3.0" stroke-linecap="butt"/>
<text x="227.50" y="253.60" font-size="12.30" text-anchor="middle" fill="#f4f4f4" >1.00</text>
<path d="M48.0 275.0 C55.0 274.8 77.0 274.0 90.0 273.6 C103.0 273.2 120.0 272.8 126.0 272.6" stroke="#f6f6f6" stroke-width="1.00" fill="none" stroke-dasharray="5.6 3.0" stroke-linecap="butt"/>
<path d="M152.0 272.2 C160.0 272.1 185.3 271.8 200.0 271.6 C214.7 271.4 227.8 271.3 240.0 271.2 C252.2 271.1 267.5 271.0 273.0 271.0" stroke="#f6f6f6" stroke-width="1.00" fill="none" stroke-dasharray="5.6 3.0" stroke-linecap="butt"/>
<text x="138.50" y="276.80" font-size="12.30" text-anchor="middle" fill="#f4f4f4" >1.00</text>
<path d="M48.0 294.3 C55.0 294.0 76.3 293.2 90.0 292.6 C103.7 292.0 118.0 291.4 130.0 290.8 C142.0 290.2 156.7 289.5 162.0 289.2" stroke="#f6f6f6" stroke-width="1.00" fill="none" stroke-dasharray="5.6 3.0" stroke-linecap="butt"/>
<path d="M190.0 288.2 C196.7 288.2 216.2 288.0 230.0 288.0 C243.8 288.0 265.8 288.0 273.0 288.0" stroke="#f6f6f6" stroke-width="1.00" fill="none" stroke-dasharray="5.6 3.0" stroke-linecap="butt"/>
<text x="176.00" y="292.60" font-size="12.30" text-anchor="middle" fill="#f4f4f4" >1.50</text>
<path d="M48.0 298.8 C55.0 298.7 76.8 298.4 90.0 298.2 C103.2 298.0 120.8 297.7 127.0 297.6" stroke="#f6f6f6" stroke-width="1.00" fill="none" stroke-dasharray="5.6 3.0" stroke-linecap="butt"/>
<path d="M153.0 297.2 C160.8 297.1 185.5 296.8 200.0 296.6 C214.5 296.4 227.8 296.3 240.0 296.2 C252.2 296.1 267.5 296.0 273.0 296.0" stroke="#f6f6f6" stroke-width="1.00" fill="none" stroke-dasharray="5.6 3.0" stroke-linecap="butt"/>
<text x="140.00" y="301.50" font-size="12.30" text-anchor="middle" fill="#f4f4f4" >1.75</text>
<path d="M48.0 321.6 C55.0 321.4 76.3 321.1 90.0 320.6 C103.7 320.1 120.0 319.1 130.0 318.4 C140.0 317.7 143.3 317.1 150.0 316.2 C156.7 315.3 164.3 314.3 170.0 313.2 C175.7 312.1 179.8 310.4 184.0 309.6 C188.2 308.8 191.2 308.6 195.0 308.3 C198.8 308.0 205.0 308.1 207.0 308.0" stroke="#f6f6f6" stroke-width="1.00" fill="none" stroke-dasharray="5.6 3.0" stroke-linecap="butt"/>
<path d="M240.0 308.6 L273.0 309.0" stroke="#f6f6f6" stroke-width="1.00" fill="none" stroke-dasharray="5.6 3.0" stroke-linecap="butt"/>
<text x="222.00" y="312.60" font-size="12.30" text-anchor="middle" fill="#f4f4f4" >2.00</text>
<path d="M176.0 328.4 C173.3 328.5 165.7 328.8 160.0 329.0 C154.3 329.2 145.0 329.7 142.0 329.8" stroke="#f6f6f6" stroke-width="1.00" fill="none" stroke-dasharray="5.6 3.0" stroke-linecap="butt"/>
<path d="M142.0 329.8 C141.5 330.8 142.3 333.6 139.0 335.5 C135.7 337.4 124.8 340.2 122.0 341.2" stroke="#f6f6f6" stroke-width="1.00" fill="none" stroke-dasharray="5.6 3.0" stroke-linecap="butt"/>
<path d="M122.0 341.2 C122.8 342.7 124.3 346.7 127.0 350.0 C129.7 353.3 133.7 357.2 138.0 361.0 C142.3 364.8 147.7 369.1 153.0 372.5 C158.3 375.9 163.8 378.8 170.0 381.5 C176.2 384.2 182.8 386.9 190.0 388.6 C197.2 390.3 206.0 391.6 213.0 391.8 C220.0 392.0 225.7 391.1 232.0 389.6 C238.3 388.1 245.7 384.7 251.0 382.6 C256.3 380.5 260.3 378.7 264.0 377.0 C267.7 375.3 271.5 373.3 273.0 372.6" stroke="#f6f6f6" stroke-width="1.00" fill="none" stroke-dasharray="5.6 3.0" stroke-linecap="butt"/>
<path d="M206.0 328.0 C211.7 328.0 228.8 328.1 240.0 328.2 C251.2 328.3 267.5 328.5 273.0 328.6" stroke="#f6f6f6" stroke-width="1.00" fill="none" stroke-dasharray="5.6 3.0" stroke-linecap="butt"/>
<text x="191.50" y="332.40" font-size="12.30" text-anchor="middle" fill="#f4f4f4" >2.25</text>
<line x1="47.90" y1="225.00" x2="47.90" y2="406.30" stroke="#222" stroke-width="0.60" stroke-opacity="0.6"/>
<rect x="194.60" y="228.50" width="69.40" height="57.10" fill="none" stroke="#000" stroke-width="1.35"/>
<line x1="48.40" y1="165.60" x2="194.60" y2="228.10" stroke="#000" stroke-width="1.25" />
<line x1="281.30" y1="165.60" x2="264.10" y2="228.10" stroke="#000" stroke-width="1.25" />
<text x="400.40" y="230.60" font-size="14.30" text-anchor="end" fill="#262626" >0</text>
<text x="400.40" y="267.40" font-size="14.30" text-anchor="end" fill="#262626" >10</text>
<line x1="400.90" y1="262.20" x2="405.20" y2="262.20" stroke="#111" stroke-width="1.00" />
<text x="400.40" y="303.00" font-size="14.30" text-anchor="end" fill="#262626" >20</text>
<line x1="400.90" y1="297.80" x2="405.20" y2="297.80" stroke="#111" stroke-width="1.00" />
<text x="400.40" y="338.60" font-size="14.30" text-anchor="end" fill="#262626" >30</text>
<line x1="400.90" y1="333.40" x2="405.20" y2="333.40" stroke="#111" stroke-width="1.00" />
<text x="400.40" y="374.20" font-size="14.30" text-anchor="end" fill="#262626" >40</text>
<line x1="400.90" y1="369.00" x2="405.20" y2="369.00" stroke="#111" stroke-width="1.00" />
<text x="400.40" y="412.30" font-size="14.30" text-anchor="end" fill="#262626" >50</text>
<text transform="translate(377.8,315.4) rotate(-90)" font-size="15.5" text-anchor="middle" fill="#262626">Depth (m)</text>
<text x="367.00" y="224.20" font-size="17.30" text-anchor="start" fill="#000" >d)</text>
<line x1="649.20" y1="224.70" x2="652.00" y2="224.70" stroke="#262626" stroke-width="0.80" />
<text x="653.00" y="229.90" font-size="13.00" text-anchor="start" fill="#262626" >0.07</text>
<line x1="649.20" y1="254.95" x2="652.00" y2="254.95" stroke="#262626" stroke-width="0.80" />
<text x="653.00" y="260.15" font-size="13.00" text-anchor="start" fill="#262626" >0.06</text>
<line x1="649.20" y1="285.20" x2="652.00" y2="285.20" stroke="#262626" stroke-width="0.80" />
<text x="653.00" y="290.40" font-size="13.00" text-anchor="start" fill="#262626" >0.05</text>
<line x1="649.20" y1="315.45" x2="652.00" y2="315.45" stroke="#262626" stroke-width="0.80" />
<text x="653.00" y="320.65" font-size="13.00" text-anchor="start" fill="#262626" >0.04</text>
<line x1="649.20" y1="345.70" x2="652.00" y2="345.70" stroke="#262626" stroke-width="0.80" />
<text x="653.00" y="350.90" font-size="13.00" text-anchor="start" fill="#262626" >0.03</text>
<line x1="649.20" y1="375.95" x2="652.00" y2="375.95" stroke="#262626" stroke-width="0.80" />
<text x="653.00" y="381.15" font-size="13.00" text-anchor="start" fill="#262626" >0.02</text>
<line x1="649.20" y1="406.20" x2="652.00" y2="406.20" stroke="#262626" stroke-width="0.80" />
<text x="653.00" y="411.40" font-size="13.00" text-anchor="start" fill="#262626" >0.01</text>
<text x="628.30" y="427.70" font-size="13.40" text-anchor="start" fill="#111" >V<tspan font-size="8.8" dy="2">s</tspan><tspan dy="-2"> (Km/s)</tspan></text>
<path d="M532.9 418.6 V414.9 H615.4 V418.6" stroke="#000" stroke-width="1.20" fill="none" />
<text x="577.80" y="430.90" font-size="17.00" text-anchor="middle" fill="#000" >20 m</text>
<g fill="#000" fill-opacity="0.6" stroke="#000" stroke-opacity="0.45" stroke-width="0.4"><rect x="458.06" y="150.25" width="3.27" height="10.15"/><rect x="461.33" y="150.25" width="3.27" height="10.15"/><rect x="464.60" y="150.25" width="3.27" height="10.15"/><rect x="467.86" y="119.79" width="3.27" height="40.61"/><rect x="471.13" y="135.02" width="3.27" height="25.38"/><rect x="474.40" y="109.64" width="3.27" height="50.76"/><rect x="477.66" y="69.02" width="3.27" height="91.38"/><rect x="480.93" y="48.72" width="3.27" height="111.68"/><rect x="484.20" y="48.72" width="3.27" height="111.68"/><rect x="487.46" y="38.57" width="3.27" height="121.83"/><rect x="490.73" y="48.72" width="3.27" height="111.68"/><rect x="494.00" y="69.02" width="3.27" height="91.38"/><rect x="497.27" y="69.02" width="3.27" height="91.38"/><rect x="500.53" y="94.41" width="3.27" height="65.99"/><rect x="503.80" y="99.48" width="3.27" height="60.92"/><rect x="507.07" y="94.41" width="3.27" height="65.99"/><rect x="510.33" y="114.71" width="3.27" height="45.69"/><rect x="513.60" y="104.56" width="3.27" height="55.84"/><rect x="516.87" y="119.79" width="3.27" height="40.61"/><rect x="520.13" y="99.48" width="3.27" height="60.92"/><rect x="523.40" y="99.48" width="3.27" height="60.92"/><rect x="526.67" y="109.64" width="3.27" height="50.76"/><rect x="529.94" y="150.25" width="3.27" height="10.15"/><rect x="533.20" y="124.87" width="3.27" height="35.53"/><rect x="536.47" y="145.17" width="3.27" height="15.23"/><rect x="539.74" y="155.32" width="3.27" height="5.08"/><rect x="543.00" y="155.32" width="3.27" height="5.08"/><rect x="546.27" y="135.02" width="3.27" height="25.38"/><rect x="549.54" y="155.32" width="3.27" height="5.08"/><rect x="552.80" y="155.32" width="3.27" height="5.08"/><rect x="556.07" y="150.25" width="3.27" height="10.15"/><rect x="559.34" y="155.32" width="3.27" height="5.08"/><rect x="562.61" y="155.32" width="3.27" height="5.08"/><rect x="565.87" y="155.32" width="3.27" height="5.08"/><rect x="569.14" y="155.32" width="3.27" height="5.08"/><rect x="572.41" y="150.25" width="3.27" height="10.15"/><rect x="578.94" y="155.32" width="3.27" height="5.08"/><rect x="582.21" y="155.32" width="3.27" height="5.08"/><rect x="585.47" y="145.17" width="3.27" height="15.23"/><rect x="592.01" y="155.32" width="3.27" height="5.08"/><rect x="595.27" y="145.17" width="3.27" height="15.23"/><rect x="598.54" y="140.09" width="3.27" height="20.31"/><rect x="611.61" y="150.25" width="3.27" height="10.15"/></g>
<g fill="#d95319" fill-opacity="0.6" stroke="#000" stroke-opacity="0.45" stroke-width="0.4"><rect x="454.79" y="155.32" width="3.27" height="5.08"/><rect x="474.40" y="140.09" width="3.27" height="20.31"/><rect x="477.66" y="124.87" width="3.27" height="35.53"/><rect x="480.93" y="114.71" width="3.27" height="45.69"/><rect x="484.20" y="109.64" width="3.27" height="50.76"/><rect x="487.46" y="104.56" width="3.27" height="55.84"/><rect x="490.73" y="99.48" width="3.27" height="60.92"/><rect x="494.00" y="84.25" width="3.27" height="76.15"/><rect x="497.27" y="79.18" width="3.27" height="81.22"/><rect x="500.53" y="23.34" width="3.27" height="137.06"/><rect x="503.80" y="38.57" width="3.27" height="121.83"/><rect x="507.07" y="13.18" width="3.27" height="147.22"/><rect x="510.33" y="23.34" width="3.27" height="137.06"/><rect x="513.60" y="18.26" width="3.27" height="142.14"/><rect x="516.87" y="74.10" width="3.27" height="86.30"/><rect x="520.13" y="74.10" width="3.27" height="86.30"/><rect x="523.40" y="84.25" width="3.27" height="76.15"/><rect x="526.67" y="84.25" width="3.27" height="76.15"/><rect x="529.94" y="99.48" width="3.27" height="60.92"/><rect x="533.20" y="114.71" width="3.27" height="45.69"/><rect x="536.47" y="135.02" width="3.27" height="25.38"/><rect x="539.74" y="145.17" width="3.27" height="15.23"/><rect x="543.00" y="135.02" width="3.27" height="25.38"/><rect x="546.27" y="150.25" width="3.27" height="10.15"/><rect x="549.54" y="150.25" width="3.27" height="10.15"/><rect x="556.07" y="150.25" width="3.27" height="10.15"/><rect x="559.34" y="145.17" width="3.27" height="15.23"/><rect x="562.61" y="145.17" width="3.27" height="15.23"/><rect x="565.87" y="155.32" width="3.27" height="5.08"/><rect x="569.14" y="155.32" width="3.27" height="5.08"/><rect x="572.41" y="155.32" width="3.27" height="5.08"/><rect x="575.67" y="150.25" width="3.27" height="10.15"/><rect x="578.94" y="150.25" width="3.27" height="10.15"/><rect x="582.21" y="155.32" width="3.27" height="5.08"/><rect x="598.54" y="155.32" width="3.27" height="5.08"/></g>
<rect x="404.70" y="5.00" width="217.80" height="155.40" fill="none" stroke="#707070" stroke-width="0.65"/>
<line x1="600.00" y1="224.30" x2="612.00" y2="224.30" stroke="#1a2a6a" stroke-width="0.70" stroke-opacity="0.55"/>
<line x1="404.70" y1="108.60" x2="406.90" y2="108.60" stroke="#555" stroke-width="0.70" />
<line x1="622.50" y1="108.60" x2="620.30" y2="108.60" stroke="#555" stroke-width="0.70" />
<line x1="404.70" y1="56.80" x2="406.90" y2="56.80" stroke="#555" stroke-width="0.70" />
<line x1="622.50" y1="56.80" x2="620.30" y2="56.80" stroke="#555" stroke-width="0.70" />
<line x1="513.60" y1="5.00" x2="513.60" y2="7.20" stroke="#555" stroke-width="0.70" />
<line x1="513.60" y1="160.40" x2="513.60" y2="158.20" stroke="#555" stroke-width="0.70" />
<path d="M404.70 160.40 L405.79 160.40 L406.88 160.40 L407.97 160.40 L409.06 160.40 L410.14 160.40 L411.23 160.40 L412.32 160.40 L413.41 160.40 L414.50 160.40 L415.59 160.40 L416.68 160.40 L417.77 160.40 L418.86 160.40 L419.95 160.40 L421.03 160.40 L422.12 160.40 L423.21 160.40 L424.30 160.40 L425.39 160.40 L426.48 160.40 L427.57 160.40 L428.66 160.40 L429.75 160.40 L430.84 160.40 L431.93 160.40 L433.01 160.40 L434.10 160.40 L435.19 160.40 L436.28 160.40 L437.37 160.40 L438.46 160.40 L439.55 160.40 L440.64 160.40 L441.73 160.40 L442.81 160.40 L443.90 160.40 L444.99 160.39 L446.08 160.39 L447.17 160.39 L448.26 160.38 L449.35 160.38 L450.44 160.37 L451.53 160.36 L452.62 160.35 L453.70 160.33 L454.79 160.31 L455.88 160.29 L456.97 160.25 L458.06 160.21 L459.15 160.15 L460.24 160.08 L461.33 159.99 L462.42 159.87 L463.51 159.73 L464.60 159.56 L465.68 159.34 L466.77 159.08 L467.86 158.76 L468.95 158.37 L470.04 157.91 L471.13 157.35 L472.22 156.69 L473.31 155.91 L474.40 154.99 L475.49 153.91 L476.57 152.67 L477.66 151.22 L478.75 149.57 L479.84 147.68 L480.93 145.54 L482.02 143.13 L483.11 140.42 L484.20 137.41 L485.29 134.09 L486.38 130.43 L487.46 126.44 L488.55 122.11 L489.64 117.46 L490.73 112.48 L491.82 107.19 L492.91 101.63 L494.00 95.81 L495.09 89.78 L496.18 83.58 L497.26 77.26 L498.35 70.87 L499.44 64.49 L500.53 58.17 L501.62 51.99 L502.71 46.03 L503.80 40.35 L504.89 35.03 L505.98 30.14 L507.07 25.74 L508.15 21.91 L509.24 18.69 L510.33 16.14 L511.42 14.29 L512.51 13.17 L513.60 12.79 L514.69 13.17 L515.78 14.29 L516.87 16.14 L517.96 18.69 L519.04 21.91 L520.13 25.74 L521.22 30.14 L522.31 35.03 L523.40 40.35 L524.49 46.03 L525.58 51.99 L526.67 58.17 L527.76 64.49 L528.85 70.87 L529.93 77.26 L531.02 83.58 L532.11 89.78 L533.20 95.81 L534.29 101.63 L535.38 107.19 L536.47 112.48 L537.56 117.46 L538.65 122.11 L539.74 126.44 L540.83 130.43 L541.91 134.09 L543.00 137.41 L544.09 140.42 L545.18 143.13 L546.27 145.54 L547.36 147.68 L548.45 149.57 L549.54 151.22 L550.63 152.67 L551.72 153.91 L552.80 154.99 L553.89 155.91 L554.98 156.69 L556.07 157.35 L557.16 157.91 L558.25 158.37 L559.34 158.76 L560.43 159.08 L561.52 159.34 L562.61 159.56 L563.69 159.73 L564.78 159.87 L565.87 159.99 L566.96 160.08 L568.05 160.15 L569.14 160.21 L570.23 160.25 L571.32 160.29 L572.41 160.31 L573.50 160.33 L574.58 160.35 L575.67 160.36 L576.76 160.37 L577.85 160.38 L578.94 160.38 L580.03 160.39 L581.12 160.39 L582.21 160.39 L583.30 160.40 L584.38 160.40 L585.47 160.40 L586.56 160.40 L587.65 160.40 L588.74 160.40 L589.83 160.40 L590.92 160.40 L592.01 160.40 L593.10 160.40 L594.19 160.40 L595.27 160.40 L596.36 160.40 L597.45 160.40 L598.54 160.40 L599.63 160.40 L600.72 160.40 L601.81 160.40 L602.90 160.40 L603.99 160.40 L605.08 160.40 L606.16 160.40 L607.25 160.40 L608.34 160.40 L609.43 160.40 L610.52 160.40 L611.61 160.40 L612.70 160.40 L613.79 160.40 L614.88 160.40 L615.97 160.40 L617.06 160.40 L618.14 160.40 L619.23 160.40 L620.32 160.40 L621.41 160.40 L622.50 160.40" stroke="#0000ff" stroke-width="1.30" fill="none" stroke-linejoin="round"/>
<text x="401.00" y="166.40" font-size="14.00" text-anchor="end" fill="#262626" >0</text>
<text x="401.00" y="114.60" font-size="14.00" text-anchor="end" fill="#262626" >2</text>
<text x="401.00" y="62.80" font-size="14.00" text-anchor="end" fill="#262626" >4</text>
<text x="401.00" y="11.00" font-size="14.00" text-anchor="end" fill="#262626" >6</text>
<text x="403.70" y="178.60" font-size="14.00" text-anchor="middle" fill="#262626" >-0.5</text>
<text x="513.60" y="178.60" font-size="14.00" text-anchor="middle" fill="#262626" >0</text>
<text x="623.00" y="178.60" font-size="14.00" text-anchor="middle" fill="#262626" >0.5</text>
<text x="513.60" y="197.30" font-size="14.70" text-anchor="middle" fill="#262626" >Misfit (km/s)</text>
<text x="368.00" y="15.40" font-size="17.30" text-anchor="start" fill="#000" >c)</text>
<rect x="535.20" y="13.00" width="19.30" height="8.00" fill="#000" fill-opacity="0.6" stroke="#000" stroke-opacity=".45" stroke-width=".4"/>
<rect x="535.20" y="24.40" width="19.30" height="8.00" fill="#d95319" fill-opacity="0.6" stroke="#000" stroke-opacity=".45" stroke-width=".4"/>
<line x1="535.20" y1="41.70" x2="554.50" y2="41.70" stroke="#0000ff" stroke-width="1.20" />
<text x="556.50" y="20.60" font-size="8.70" text-anchor="start" fill="#111" >initial model</text>
<text x="556.50" y="31.90" font-size="8.70" text-anchor="start" fill="#111" >final model</text>
<text x="556.50" y="43.20" font-size="8.70" text-anchor="start" fill="#111" textLength="59" lengthAdjust="spacing">f<tspan font-size="6.5" dy="2">N</tspan><tspan dy="-2">(</tspan><tspan font-size="8.3" font-style="italic" fill="#444">&#956;</tspan>=0,<tspan font-size="8.3" font-style="italic" fill="#444">&#963;</tspan>=0.07)</text>
<line x1="533.00" y1="50.30" x2="617.00" y2="50.30" stroke="#c6c6c6" stroke-width="1.60" />
<path d="M48.5 130.4 C51.7 130.0 61.5 128.4 67.8 128.0 C74.1 127.6 78.6 127.7 86.3 128.0 C94.0 128.3 106.4 129.8 114.1 129.8 C121.8 129.8 126.4 128.6 132.6 128.0 C138.8 127.4 145.6 126.5 151.2 126.1 C156.8 125.7 158.4 125.8 166.0 125.6 C173.6 125.4 185.7 125.2 197.0 125.2 C208.3 125.2 219.6 125.2 234.1 125.6 C248.6 126.0 275.5 127.3 283.8 127.6 L283.8 165.6 L48.5 165.6 Z" stroke="none" stroke-width="0.00" fill="url(#ggrey)" />
<path d="M48.5 65.8 C50.2 65.1 55.1 62.9 58.5 61.6 C61.9 60.4 65.8 59.0 68.6 58.3 C71.4 57.6 72.1 57.3 75.4 57.4 C78.7 57.5 83.9 58.2 88.2 58.9 C92.5 59.5 95.8 60.9 101.1 61.3 C106.3 61.7 113.8 61.9 119.7 61.5 C125.6 61.1 131.1 60.0 136.3 58.9 C141.6 57.8 146.2 55.8 151.2 54.6 C156.1 53.4 160.8 52.2 166.0 51.5 C171.2 50.8 175.5 50.8 182.2 50.4 C188.9 50.0 197.7 49.4 206.3 48.9 C215.0 48.4 225.8 48.0 234.1 47.6 C242.4 47.2 250.1 46.4 256.3 46.3 C262.5 46.1 266.6 46.1 271.2 46.7 C275.8 47.3 281.7 49.5 283.8 50.0 L283.8 127.6 C275.5 127.3 248.6 126.0 234.1 125.6 C219.6 125.2 208.3 125.2 197.0 125.2 C185.7 125.2 173.6 125.4 166.0 125.6 C158.4 125.8 156.8 125.7 151.2 126.1 C145.6 126.5 138.8 127.4 132.6 128.0 C126.4 128.6 121.8 129.8 114.1 129.8 C106.4 129.8 94.0 128.3 86.3 128.0 C78.6 127.7 74.1 127.6 67.8 128.0 C61.5 128.4 51.7 130.0 48.5 130.4 Z" stroke="none" stroke-width="0.00" fill="#f4b3b8" />
<g clip-path="url(#cpink)"><path d="M88.2 58.9 C90.3 59.3 95.8 60.9 101.1 61.3 C106.3 61.7 113.8 61.9 119.7 61.5 C125.6 61.1 131.1 60.0 136.3 58.9 C141.6 57.8 146.2 55.8 151.2 54.6 C156.1 53.4 160.8 52.2 166.0 51.5 C171.2 50.8 175.5 50.8 182.2 50.4 C188.9 50.0 197.7 49.4 206.3 48.9 C215.0 48.4 225.8 48.0 234.1 47.6 C242.4 47.2 250.1 46.4 256.3 46.3 C262.5 46.1 266.6 46.1 271.2 46.7 C275.8 47.3 281.7 49.5 283.8 50.0 L283.8 54.5 C281.7 54.1 274.5 52.5 271.2 52.2 C267.9 51.9 266.4 52.2 264.0 52.8 C261.6 53.3 258.9 54.1 257.0 55.5 C255.1 56.9 254.2 60.0 252.5 61.0 C250.8 62.0 248.9 62.1 247.0 61.5 C245.1 60.9 243.2 58.9 241.0 57.5 C238.8 56.1 237.3 54.0 234.1 53.4 C230.9 52.8 226.6 53.4 222.0 53.6 C217.4 53.8 212.9 54.3 206.3 54.8 C199.7 55.3 188.9 55.9 182.2 56.4 C175.5 56.9 171.2 56.9 166.0 57.6 C160.8 58.3 156.1 59.5 151.2 60.8 C146.2 62.1 140.2 64.1 136.3 65.2 C132.4 66.3 130.8 66.8 128.0 67.4 C125.2 68.0 122.7 68.4 119.7 68.6 C116.7 68.8 113.1 68.9 110.0 68.6 C106.9 68.3 103.6 67.7 101.1 67.0 C98.6 66.3 97.5 65.8 95.0 64.5 C92.5 63.2 87.5 59.9 86.0 59.0 Z" stroke="none" stroke-width="0.00" fill="#b07d89" filter="url(#fb)"/></g>
<path d="M48.5 39.4 C53.8 39.4 67.1 39.7 80.0 39.6 C92.9 39.5 112.7 39.0 126.0 39.0 C139.3 39.0 148.2 39.6 160.0 39.6 C171.8 39.6 184.7 39.0 197.0 38.9 C209.3 38.8 222.9 39.5 234.0 39.3 C245.1 39.1 256.6 38.1 263.8 37.9 C271.1 37.6 274.4 37.6 277.5 37.8 C280.6 38.0 281.6 38.3 282.6 39.2 C283.7 40.1 283.6 42.4 283.8 43.0 L283.8 50.0 C281.7 49.5 275.8 47.3 271.2 46.7 C266.6 46.1 262.5 46.1 256.3 46.3 C250.1 46.4 242.4 47.2 234.1 47.6 C225.8 48.0 215.0 48.4 206.3 48.9 C197.7 49.4 188.9 50.0 182.2 50.4 C175.5 50.8 171.2 50.8 166.0 51.5 C160.8 52.2 156.1 53.4 151.2 54.6 C146.2 55.8 141.6 57.8 136.3 58.9 C131.1 60.0 125.6 61.1 119.7 61.5 C113.8 61.9 106.3 61.7 101.1 61.3 C95.8 60.9 92.5 59.5 88.2 58.9 C83.9 58.2 78.7 57.5 75.4 57.4 C72.1 57.3 71.4 57.6 68.6 58.3 C65.8 59.0 61.9 60.4 58.5 61.6 C55.1 62.9 50.2 65.1 48.5 65.8 Z" stroke="none" stroke-width="0.00" fill="#ce9d75" />
<path d="M48.5 39.4 C53.8 39.4 67.1 39.7 80.0 39.6 C92.9 39.5 112.7 39.0 126.0 39.0 C139.3 39.0 148.2 39.6 160.0 39.6 C171.8 39.6 184.7 39.0 197.0 38.9 C209.3 38.8 222.9 39.5 234.0 39.3 C245.1 39.1 256.6 38.1 263.8 37.9 C271.1 37.6 274.4 37.6 277.5 37.8 C280.6 38.0 281.6 38.3 282.6 39.2 C283.7 40.1 283.6 42.4 283.8 43.0" stroke="#000" stroke-width="1.45" fill="none" stroke-linecap="round"/>
<path d="M48.5 65.8 C50.2 65.1 55.1 62.9 58.5 61.6 C61.9 60.4 65.8 59.0 68.6 58.3 C71.4 57.6 72.1 57.3 75.4 57.4 C78.7 57.5 83.9 58.2 88.2 58.9 C92.5 59.5 95.8 60.9 101.1 61.3 C106.3 61.7 113.8 61.9 119.7 61.5 C125.6 61.1 131.1 60.0 136.3 58.9 C141.6 57.8 146.2 55.8 151.2 54.6 C156.1 53.4 160.8 52.2 166.0 51.5 C171.2 50.8 175.5 50.8 182.2 50.4 C188.9 50.0 197.7 49.4 206.3 48.9 C215.0 48.4 225.8 48.0 234.1 47.6 C242.4 47.2 250.1 46.4 256.3 46.3 C262.5 46.1 266.6 46.1 271.2 46.7 C275.8 47.3 281.7 49.5 283.8 50.0" stroke="#000" stroke-width="1.45" fill="none" stroke-linecap="round"/>
<path d="M48.5 130.4 C51.7 130.0 61.5 128.4 67.8 128.0 C74.1 127.6 78.6 127.7 86.3 128.0 C94.0 128.3 106.4 129.8 114.1 129.8 C121.8 129.8 126.4 128.6 132.6 128.0 C138.8 127.4 145.6 126.5 151.2 126.1 C156.8 125.7 158.4 125.8 166.0 125.6 C173.6 125.4 185.7 125.2 197.0 125.2 C208.3 125.2 219.6 125.2 234.1 125.6 C248.6 126.0 275.5 127.3 283.8 127.6" stroke="#000" stroke-width="1.45" fill="none" stroke-linecap="round"/>
<path d="M88.2 58.9 C91.0 60.5 99.7 65.5 104.9 68.5 C110.2 71.5 114.8 74.2 119.7 76.9 C124.6 79.6 132.0 83.5 134.5 84.8" stroke="#000" stroke-width="1.45" fill="none" stroke-linecap="round"/>
<path d="M149.3 55.2 C147.9 56.5 143.2 60.2 141.0 63.0 C138.8 65.8 137.3 68.5 136.2 72.2 C135.1 75.9 134.8 82.9 134.5 85.0" stroke="#000" stroke-width="1.45" fill="none" stroke-linecap="round"/>
<path d="M73.4 105.6 C77.1 104.0 88.2 99.1 95.6 96.3 C103.0 93.5 111.3 90.8 117.8 88.9 C124.3 87.1 128.9 86.1 134.5 85.2 C140.1 84.3 145.9 84.0 151.2 83.7 C156.4 83.4 162.1 83.3 166.0 83.6 C169.9 83.8 171.5 84.4 174.8 85.2 C178.1 86.0 184.1 87.9 185.9 88.4" stroke="#000" stroke-width="1.45" fill="none" stroke-linecap="round"/>
<path d="M48.5 88.0 C50.5 89.2 56.2 92.5 60.4 95.4 C64.5 98.3 70.1 102.7 73.4 105.6 C76.7 108.5 79.2 111.8 80.4 113.0" stroke="#000" stroke-width="1.45" fill="none" stroke-linecap="round"/>
<path d="M48.5 119.5 C50.2 118.4 55.0 114.3 58.5 113.0 C62.0 111.7 65.9 111.8 69.6 111.5 C73.2 111.2 75.2 111.7 80.4 111.5 C85.7 111.3 94.9 109.8 101.1 110.2 C107.3 110.6 112.5 112.4 117.8 113.9 C123.0 115.5 127.6 117.8 132.6 119.5 C137.5 121.2 145.0 123.3 147.5 124.1" stroke="#000" stroke-width="1.45" fill="none" stroke-linecap="round"/>
<path d="M185.9 88.4 C183.4 89.5 175.4 92.8 171.1 94.9 C166.8 97.1 163.3 99.2 160.0 101.3 C156.7 103.4 155.1 104.4 151.2 107.4 C147.2 110.4 138.8 117.5 136.3 119.5" stroke="#000" stroke-width="1.45" fill="none" stroke-linecap="round"/>
<path d="M140.0 115.8 C142.5 115.0 150.6 112.3 154.9 111.3 C159.2 110.3 162.1 110.3 166.0 109.6 C169.9 108.8 172.9 107.2 178.5 106.8 C184.1 106.4 193.6 106.5 199.8 107.0 C206.0 107.5 209.9 108.7 215.6 109.5 C221.3 110.3 228.5 111.3 234.1 111.9 C239.7 112.5 244.6 112.4 248.9 113.2 C253.2 114.0 255.7 114.6 260.0 116.9 C264.3 119.2 272.4 125.3 274.9 127.0" stroke="#000" stroke-width="1.45" fill="none" stroke-linecap="round"/>
<path d="M199.8 107.0 C202.4 105.5 209.9 101.0 215.6 97.9 C221.3 94.8 231.0 90.0 234.1 88.4" stroke="#000" stroke-width="1.45" fill="none" stroke-linecap="round"/>
<path d="M234.1 88.4 C236.6 88.9 244.4 89.5 248.9 91.1 C253.4 92.7 257.0 95.1 261.0 98.0 C265.0 100.9 271.0 106.6 273.0 108.3" stroke="#000" stroke-width="1.45" fill="none" stroke-linecap="round"/>
<path d="M283.8 58.7 C281.1 59.0 272.7 59.4 267.5 60.6 C262.3 61.8 256.6 63.8 252.6 66.1 C248.6 68.4 245.9 71.7 243.4 74.5 C240.9 77.3 239.4 80.5 237.8 82.8 C236.2 85.1 234.7 87.5 234.1 88.4" stroke="#000" stroke-width="1.45" fill="none" stroke-linecap="round"/>
<path d="M185.9 88.4 C189.3 87.8 197.7 85.8 206.3 84.7 C215.0 83.6 232.6 82.4 237.8 81.9" stroke="#000" stroke-width="1.45" fill="none" stroke-linecap="round"/>
<path d="M234.1 48.0 C235.9 49.3 242.1 52.9 245.2 55.9 C248.3 58.9 251.4 64.4 252.6 66.1" stroke="#000" stroke-width="1.45" fill="none" stroke-linecap="round"/>
<path d="M210.0 49.3 C208.3 50.4 202.1 52.9 199.8 55.9 C197.5 58.9 197.3 63.4 196.1 67.1 C194.9 70.8 194.1 74.7 192.4 78.2 C190.7 81.8 187.0 86.7 185.9 88.4" stroke="#000" stroke-width="1.45" fill="none" stroke-linecap="round"/>
<path d="M171.1 51.3 C173.3 52.4 180.0 55.2 184.1 57.8 C188.2 60.3 193.7 65.1 195.6 66.6" stroke="#000" stroke-width="1.45" fill="none" stroke-linecap="round"/>
<path d="M256.3 115.0 C258.2 114.1 262.9 110.7 267.5 109.5 C272.1 108.3 281.1 107.9 283.8 107.6" stroke="#000" stroke-width="1.45" fill="none" stroke-linecap="round"/>
<path d="M48.5 37 V165.6 H283.8 V35.2" stroke="#000" stroke-width="1.50" fill="none" />
<path d="M51.5 131.7 C52.0 134.0 53.9 140.7 54.8 145.6 C55.7 150.5 56.6 158.7 57.0 161.3" stroke="#2a2222" stroke-width="0.70" fill="none" />
<path d="M65.9 129.8 C67.0 132.7 70.2 142.0 72.4 147.4 C74.6 152.8 77.8 159.7 78.9 162.2" stroke="#2a2222" stroke-width="0.70" fill="none" />
<path d="M83.0 132.2 C85.1 133.5 91.9 137.2 95.6 140.0 C99.2 142.8 102.3 145.6 104.9 149.3 C107.5 153.0 110.2 160.0 111.3 162.2" stroke="#2a2222" stroke-width="0.70" fill="none" />
<path d="M106.3 134.1 C108.2 135.1 115.1 136.8 117.8 140.0 C120.5 143.2 120.7 149.4 122.5 153.0 C124.3 156.6 127.6 159.9 128.6 161.3" stroke="#2a2222" stroke-width="0.70" fill="none" />
<path d="M130.8 129.8 C131.6 132.4 133.7 140.3 135.4 145.6 C137.1 150.8 140.1 158.7 141.0 161.3" stroke="#2a2222" stroke-width="0.70" fill="none" />
<path d="M148.4 128.9 C149.0 131.7 151.3 140.2 152.1 145.6 C152.9 151.0 153.2 158.7 153.4 161.3" stroke="#2a2222" stroke-width="0.70" fill="none" />
<path d="M160.4 128.0 C160.9 130.9 162.3 140.0 163.2 145.6 C164.1 151.2 165.5 158.7 166.0 161.3" stroke="#2a2222" stroke-width="0.70" fill="none" />
<path d="M176.7 128.9 C176.4 131.7 176.0 140.2 174.8 145.6 C173.6 151.0 170.2 158.7 169.3 161.3" stroke="#2a2222" stroke-width="0.70" fill="none" />
<path d="M192.4 128.0 C191.6 130.9 190.1 140.0 187.8 145.6 C185.5 151.2 180.1 158.7 178.5 161.3" stroke="#2a2222" stroke-width="0.70" fill="none" />
<path d="M205.4 129.8 C204.0 132.4 199.6 141.4 197.0 145.6 C194.4 149.8 191.6 151.9 189.6 154.8 C187.6 157.7 185.8 161.7 185.0 163.1" stroke="#2a2222" stroke-width="0.70" fill="none" />
<path d="M217.4 129.8 L217.4 160.4" stroke="#2a2222" stroke-width="0.70" fill="none" />
<path d="M234.1 129.8 C233.9 133.4 234.1 145.7 233.2 151.1 C232.3 156.5 229.4 160.3 228.6 162.2" stroke="#2a2222" stroke-width="0.70" fill="none" />
<path d="M248.6 128.9 C249.0 131.7 250.8 140.1 250.8 145.6 C250.9 151.1 249.2 159.4 248.9 162.2" stroke="#2a2222" stroke-width="0.70" fill="none" />
<path d="M261.5 128.0 C261.9 130.9 263.9 140.0 263.8 145.6 C263.7 151.2 261.5 158.7 261.0 161.3" stroke="#2a2222" stroke-width="0.70" fill="none" />
<path d="M273.9 129.8 C274.3 132.4 276.5 140.3 276.4 145.6 C276.3 150.8 273.9 158.7 273.4 161.3" stroke="#2a2222" stroke-width="0.70" fill="none" />
<ellipse cx="62.2" cy="118.6" rx="1.1" ry="1.5" fill="#000" transform="rotate(-45 62.2 118.6)"/>
<ellipse cx="69.6" cy="115.2" rx="1.3" ry="1.7" fill="#000" transform="rotate(-8 69.6 115.2)"/>
<ellipse cx="65.0" cy="124.1" rx="1.5" ry="1.5" fill="#000" transform="rotate(29 65.0 124.1)"/>
<ellipse cx="72.4" cy="124.1" rx="1.1" ry="1.7" fill="#000" transform="rotate(-24 72.4 124.1)"/>
<ellipse cx="78.5" cy="120.8" rx="1.3" ry="1.5" fill="#000" transform="rotate(13 78.5 120.8)"/>
<ellipse cx="84.5" cy="120.4" rx="1.5" ry="1.7" fill="#000" transform="rotate(-40 84.5 120.4)"/>
<ellipse cx="90.0" cy="125.0" rx="1.1" ry="1.5" fill="#000" transform="rotate(-3 90.0 125.0)"/>
<ellipse cx="93.7" cy="116.3" rx="1.3" ry="1.7" fill="#000" transform="rotate(34 93.7 116.3)"/>
<ellipse cx="93.4" cy="120.0" rx="1.5" ry="1.5" fill="#000" transform="rotate(-19 93.4 120.0)"/>
<ellipse cx="107.1" cy="120.0" rx="1.1" ry="1.7" fill="#000" transform="rotate(18 107.1 120.0)"/>
<ellipse cx="108.9" cy="125.0" rx="1.3" ry="1.5" fill="#000" transform="rotate(-35 108.9 125.0)"/>
<ellipse cx="125.6" cy="124.1" rx="1.5" ry="1.7" fill="#000" transform="rotate(2 125.6 124.1)"/>
<ellipse cx="153.0" cy="120.0" rx="1.1" ry="1.5" fill="#000" transform="rotate(39 153.0 120.0)"/>
<ellipse cx="165.2" cy="123.3" rx="1.3" ry="1.7" fill="#000" transform="rotate(-14 165.2 123.3)"/>
<ellipse cx="172.0" cy="123.3" rx="1.5" ry="1.5" fill="#000" transform="rotate(23 172.0 123.3)"/>
<ellipse cx="178.5" cy="119.6" rx="1.1" ry="1.7" fill="#000" transform="rotate(-30 178.5 119.6)"/>
<ellipse cx="185.0" cy="119.6" rx="1.3" ry="1.5" fill="#000" transform="rotate(7 185.0 119.6)"/>
<ellipse cx="193.0" cy="119.1" rx="1.5" ry="1.7" fill="#000" transform="rotate(44 193.0 119.1)"/>
<ellipse cx="190.6" cy="123.9" rx="1.1" ry="1.5" fill="#000" transform="rotate(-9 190.6 123.9)"/>
<ellipse cx="207.2" cy="119.1" rx="1.3" ry="1.7" fill="#000" transform="rotate(28 207.2 119.1)"/>
<ellipse cx="214.1" cy="118.3" rx="1.5" ry="1.5" fill="#000" transform="rotate(-25 214.1 118.3)"/>
<ellipse cx="221.5" cy="115.0" rx="1.1" ry="1.7" fill="#000" transform="rotate(12 221.5 115.0)"/>
<ellipse cx="217.4" cy="123.3" rx="1.3" ry="1.5" fill="#000" transform="rotate(-41 217.4 123.3)"/>
<ellipse cx="224.5" cy="123.9" rx="1.5" ry="1.7" fill="#000" transform="rotate(-4 224.5 123.9)"/>
<ellipse cx="230.8" cy="121.1" rx="1.1" ry="1.5" fill="#000" transform="rotate(33 230.8 121.1)"/>
<ellipse cx="237.5" cy="120.0" rx="1.3" ry="1.7" fill="#000" transform="rotate(-20 237.5 120.0)"/>
<ellipse cx="242.5" cy="124.6" rx="1.5" ry="1.5" fill="#000" transform="rotate(17 242.5 124.6)"/>
<ellipse cx="245.6" cy="117.4" rx="1.1" ry="1.7" fill="#000" transform="rotate(-36 245.6 117.4)"/>
<ellipse cx="245.6" cy="120.0" rx="1.3" ry="1.5" fill="#000" transform="rotate(1 245.6 120.0)"/>
<ellipse cx="259.7" cy="119.6" rx="1.5" ry="1.7" fill="#000" transform="rotate(38 259.7 119.6)"/>
<ellipse cx="77.7" cy="60.8" rx="1.1" ry="1.5" fill="#000" transform="rotate(-15 77.7 60.8)"/>
<ellipse cx="166.5" cy="54.1" rx="1.3" ry="1.7" fill="#000" transform="rotate(22 166.5 54.1)"/>
<ellipse cx="227.0" cy="51.9" rx="1.5" ry="1.5" fill="#000" transform="rotate(-31 227.0 51.9)"/>
<line x1="70.80" y1="59.90" x2="67.90" y2="65.80" stroke="#000" stroke-width="2.20" stroke-linecap="round"/>
<line x1="220.20" y1="50.40" x2="218.40" y2="55.90" stroke="#000" stroke-width="2.10" stroke-linecap="round"/>
<line x1="198.00" y1="68.00" x2="201.10" y2="71.70" stroke="#000" stroke-width="2.00" stroke-linecap="round"/>
<line x1="191.90" y1="81.50" x2="198.50" y2="83.00" stroke="#000" stroke-width="1.80" stroke-linecap="round"/>
<line x1="153.50" y1="55.50" x2="152.30" y2="58.60" stroke="#000" stroke-width="1.30" stroke-linecap="round"/>
<line x1="158.60" y1="53.80" x2="157.60" y2="56.60" stroke="#000" stroke-width="1.30" stroke-linecap="round"/>
<line x1="266.00" y1="47.60" x2="268.50" y2="49.20" stroke="#000" stroke-width="2.20" stroke-linecap="round"/>
<circle cx="107.0" cy="64.5" r="0.45" fill="#201015"/>
<circle cx="110.0" cy="66.0" r="0.45" fill="#201015"/>
<circle cx="112.5" cy="63.8" r="0.45" fill="#201015"/>
<circle cx="114.5" cy="66.5" r="0.45" fill="#201015"/>
<circle cx="117.0" cy="64.6" r="0.45" fill="#201015"/>
<circle cx="120.0" cy="63.0" r="0.45" fill="#201015"/>
<circle cx="123.5" cy="65.0" r="0.45" fill="#201015"/>
<circle cx="126.0" cy="62.6" r="0.45" fill="#201015"/>
<circle cx="128.0" cy="64.2" r="0.45" fill="#201015"/>
<circle cx="131.0" cy="61.5" r="0.45" fill="#201015"/>
<circle cx="176.0" cy="53.5" r="0.45" fill="#201015"/>
<circle cx="180.0" cy="54.5" r="0.45" fill="#201015"/>
<circle cx="188.0" cy="53.0" r="0.45" fill="#201015"/>
<circle cx="194.0" cy="52.8" r="0.45" fill="#201015"/>
<circle cx="240.0" cy="50.5" r="0.45" fill="#201015"/>
<circle cx="246.0" cy="51.5" r="0.45" fill="#201015"/>
<circle cx="250.0" cy="49.8" r="0.45" fill="#201015"/>
<circle cx="254.0" cy="52.0" r="0.45" fill="#201015"/>
<circle cx="259.0" cy="49.5" r="0.45" fill="#201015"/>
<circle cx="262.0" cy="50.5" r="0.45" fill="#201015"/>
<circle cx="56.0" cy="66.7" r="0.6" fill="#fff" fill-opacity=".85"/>
<circle cx="62.6" cy="63.9" r="0.6" fill="#fff" fill-opacity=".85"/>
<circle cx="146.0" cy="58.2" r="0.6" fill="#fff" fill-opacity=".85"/>
<circle cx="201.0" cy="62.5" r="0.6" fill="#fff" fill-opacity=".85"/>
<circle cx="212.0" cy="54.5" r="0.6" fill="#fff" fill-opacity=".85"/>
<circle cx="181.5" cy="52.6" r="0.6" fill="#fff" fill-opacity=".85"/>
<text x="119.30" y="51.50" font-size="11.40" text-anchor="start" fill="#111" font-weight="bold" >Soil</text>
<text x="205.40" y="68.90" font-size="11.00" text-anchor="start" fill="#111" font-weight="bold" >Tumuli</text>
<text x="-0.50" y="14.50" font-size="17.30" text-anchor="start" fill="#000" >a)</text>
<text x="49.30" y="28.90" font-size="13.00" text-anchor="start" fill="#000" >NE</text>
<text x="261.40" y="30.60" font-size="13.40" text-anchor="start" fill="#000" >SW</text>
<path d="M37.2 38.9 H40.0 V85.6 H37.2" stroke="#000" stroke-width="1.70" fill="none" />
<text x="35.30" y="46.20" font-size="15.30" text-anchor="end" fill="#000" >0</text>
<text x="32.20" y="89.60" font-size="15.30" text-anchor="end" fill="#000" >6 m</text>
<line x1="283.80" y1="50.50" x2="290.80" y2="50.50" stroke="#000" stroke-width="0.90" />
<path d="M283.8 52.5 H287.5 V108.5 H283.8" stroke="#000" stroke-width="0.90" fill="none" />
<line x1="287.50" y1="81.50" x2="291.50" y2="81.50" stroke="#000" stroke-width="0.90" />
<path d="M283.8 127.5 H288.5 V165.5 H283.8" stroke="#000" stroke-width="0.90" fill="none" />
<line x1="288.50" y1="147.50" x2="291.80" y2="147.50" stroke="#000" stroke-width="0.90" />
<text x="292.00" y="55.50" font-size="11.90" text-anchor="start" fill="#111" >VB (Weathered)</text>
<text x="296.00" y="84.90" font-size="11.90" text-anchor="start" fill="#111" >Stacked Lobes</text>
<text x="290.40" y="116.30" font-size="11.90" text-anchor="start" fill="#111" >VB</text>
<text x="288.80" y="127.40" font-size="11.90" text-anchor="start" fill="#111" >(Weathered)</text>
<text x="292.20" y="150.80" font-size="11.90" text-anchor="start" fill="#111" >Tabular sheet flow</text>
<text x="292.00" y="163.90" font-size="11.90" text-anchor="start" fill="#111" >(Columnar joints)</text></svg></body></html>
